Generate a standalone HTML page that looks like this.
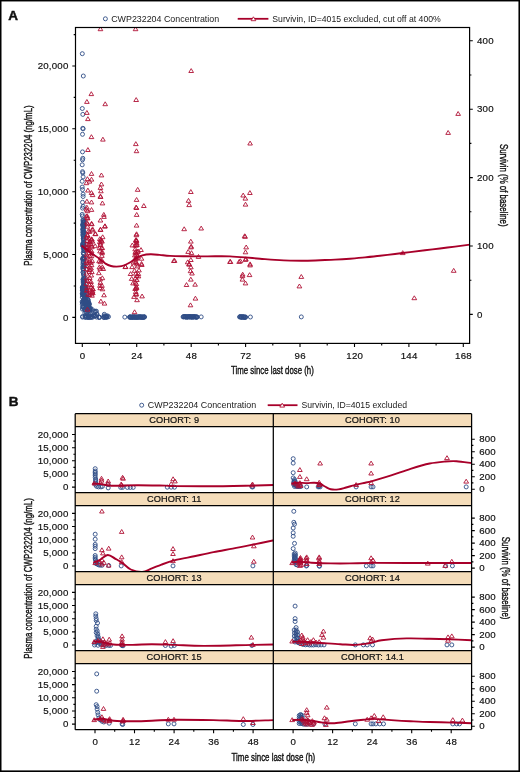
<!DOCTYPE html>
<html><head><meta charset="utf-8"><title>CWP232204 PK/PD</title>
<style>html,body{margin:0;padding:0;background:#fff;width:520px;height:772px;overflow:hidden}svg{display:block;will-change:transform}text{font-family:"Liberation Sans",sans-serif}</style>
</head><body>
<svg width="520" height="772" viewBox="0 0 520 772"><rect width="520" height="772" fill="#fff"/><rect x="0" y="0" width="520" height="1.45" fill="#000"/><rect x="0" y="0" width="1.5" height="772" fill="#000"/><rect x="518.45" y="0" width="1.55" height="772" fill="#000"/><rect x="0" y="770.4" width="520" height="1.6" fill="#000"/><g font-family="Liberation Sans, sans-serif" fill="#111"><text x="8.3" y="19.95" font-size="13.5" text-anchor="start" font-weight="bold" stroke="#111" stroke-width="0.45">A</text><text x="8.8" y="406.3" font-size="13.5" text-anchor="start" font-weight="bold" stroke="#111" stroke-width="0.45">B</text></g><circle cx="105.4" cy="18.8" r="2.0" fill="none" stroke="#2f4d86" stroke-width="0.9"/><g font-family="Liberation Sans, sans-serif" fill="#1a1a1a"><text x="111.2" y="21.9" font-size="9.2" text-anchor="start" font-weight="normal" textLength="108" lengthAdjust="spacingAndGlyphs">CWP232204 Concentration</text><text x="272.3" y="21.9" font-size="9.2" text-anchor="start" font-weight="normal" textLength="168.5" lengthAdjust="spacingAndGlyphs">Survivin, ID=4015 excluded, cut off at 400%</text></g><line x1="237.7" y1="18.8" x2="268.4" y2="18.8" stroke="#a8002a" stroke-width="1.8"/><g fill="#fff" stroke="#b01236" stroke-width="0.9"><path d="M253.4 16.8L255.8 20.7L251.1 20.7Z"/></g><clipPath id="cA"><rect x="75.5" y="27.5" width="394.1" height="315.9"/></clipPath><g clip-path="url(#cA)"><g fill="none" stroke="#2f4d86" stroke-width="0.9"><circle cx="82.3" cy="53.7" r="2.0"/><circle cx="83.3" cy="76.0" r="2.0"/><circle cx="82.3" cy="108.5" r="2.0"/><circle cx="82.8" cy="114.4" r="2.0"/><circle cx="82.8" cy="128.3" r="2.0"/><circle cx="83.1" cy="128.8" r="2.0"/><circle cx="82.5" cy="134.3" r="2.0"/><circle cx="82.5" cy="151.9" r="2.0"/><circle cx="82.8" cy="158.3" r="2.0"/><circle cx="82.5" cy="159.8" r="2.0"/><circle cx="82.2" cy="164.8" r="2.0"/><circle cx="82.5" cy="171.7" r="2.0"/><circle cx="82.8" cy="172.9" r="2.0"/><circle cx="83.1" cy="176.9" r="2.0"/><circle cx="82.2" cy="181.3" r="2.0"/><circle cx="82.2" cy="187.1" r="2.0"/><circle cx="82.5" cy="189.6" r="2.0"/><circle cx="83.1" cy="194.2" r="2.0"/><circle cx="83.1" cy="196.5" r="2.0"/><circle cx="82.5" cy="202.3" r="2.0"/><circle cx="83.1" cy="206.3" r="2.0"/><circle cx="82.5" cy="208.1" r="2.0"/><circle cx="82.2" cy="214.4" r="2.0"/><circle cx="82.4" cy="216.0" r="2.0"/><circle cx="124.8" cy="317.1" r="2.0"/><circle cx="130.0" cy="317.1" r="2.0"/><circle cx="132.5" cy="317.1" r="2.0"/><circle cx="134.5" cy="317.1" r="2.0"/><circle cx="136.5" cy="317.1" r="2.0"/><circle cx="138.5" cy="317.1" r="2.0"/><circle cx="140.5" cy="317.1" r="2.0"/><circle cx="142.5" cy="317.1" r="2.0"/><circle cx="144.4" cy="317.1" r="2.0"/><circle cx="183.1" cy="316.9" r="2.0"/><circle cx="185.5" cy="316.9" r="2.0"/><circle cx="187.5" cy="316.9" r="2.0"/><circle cx="189.5" cy="316.9" r="2.0"/><circle cx="191.5" cy="316.9" r="2.0"/><circle cx="193.5" cy="316.9" r="2.0"/><circle cx="196.9" cy="316.9" r="2.0"/><circle cx="201.2" cy="316.9" r="2.0"/><circle cx="239.6" cy="317.0" r="2.0"/><circle cx="241.5" cy="317.0" r="2.0"/><circle cx="243.5" cy="317.0" r="2.0"/><circle cx="245.5" cy="317.0" r="2.0"/><circle cx="250.4" cy="317.0" r="2.0"/><circle cx="301.3" cy="316.9" r="2.0"/><circle cx="82.9" cy="243.3" r="2.0"/><circle cx="82.8" cy="266.9" r="2.0"/><circle cx="83.3" cy="258.6" r="2.0"/><circle cx="83.5" cy="224.2" r="2.0"/><circle cx="83.4" cy="222.7" r="2.0"/><circle cx="82.8" cy="225.0" r="2.0"/><circle cx="84.0" cy="250.6" r="2.0"/><circle cx="83.1" cy="228.9" r="2.0"/><circle cx="84.2" cy="265.2" r="2.0"/><circle cx="83.3" cy="261.6" r="2.0"/><circle cx="82.8" cy="290.3" r="2.0"/><circle cx="83.2" cy="281.8" r="2.0"/><circle cx="82.9" cy="230.4" r="2.0"/><circle cx="84.0" cy="242.2" r="2.0"/><circle cx="83.6" cy="233.0" r="2.0"/><circle cx="83.3" cy="266.0" r="2.0"/><circle cx="82.8" cy="259.4" r="2.0"/><circle cx="83.0" cy="224.3" r="2.0"/><circle cx="83.4" cy="269.0" r="2.0"/><circle cx="83.6" cy="242.6" r="2.0"/><circle cx="83.2" cy="252.6" r="2.0"/><circle cx="83.8" cy="277.2" r="2.0"/><circle cx="83.6" cy="237.6" r="2.0"/><circle cx="84.1" cy="257.8" r="2.0"/><circle cx="83.2" cy="272.5" r="2.0"/><circle cx="82.9" cy="290.6" r="2.0"/><circle cx="83.9" cy="250.1" r="2.0"/><circle cx="83.5" cy="230.9" r="2.0"/><circle cx="83.8" cy="222.8" r="2.0"/><circle cx="83.6" cy="275.0" r="2.0"/><circle cx="83.2" cy="283.0" r="2.0"/><circle cx="83.7" cy="270.1" r="2.0"/><circle cx="83.4" cy="261.8" r="2.0"/><circle cx="84.2" cy="280.5" r="2.0"/><circle cx="83.8" cy="254.1" r="2.0"/><circle cx="83.8" cy="224.4" r="2.0"/><circle cx="84.3" cy="266.6" r="2.0"/><circle cx="83.2" cy="279.2" r="2.0"/><circle cx="83.8" cy="247.8" r="2.0"/><circle cx="83.4" cy="221.6" r="2.0"/><circle cx="82.9" cy="232.1" r="2.0"/><circle cx="83.9" cy="224.2" r="2.0"/><circle cx="83.1" cy="229.3" r="2.0"/><circle cx="84.1" cy="248.1" r="2.0"/><circle cx="83.4" cy="225.8" r="2.0"/><circle cx="84.1" cy="259.6" r="2.0"/><circle cx="84.1" cy="279.0" r="2.0"/><circle cx="83.4" cy="240.0" r="2.0"/><circle cx="84.1" cy="245.8" r="2.0"/><circle cx="82.9" cy="289.0" r="2.0"/><circle cx="83.1" cy="232.7" r="2.0"/><circle cx="83.5" cy="236.8" r="2.0"/><circle cx="83.1" cy="262.4" r="2.0"/><circle cx="83.4" cy="220.3" r="2.0"/><circle cx="83.6" cy="246.6" r="2.0"/><circle cx="83.8" cy="288.6" r="2.0"/><circle cx="83.7" cy="257.1" r="2.0"/><circle cx="82.8" cy="268.7" r="2.0"/><circle cx="83.9" cy="284.8" r="2.0"/><circle cx="84.0" cy="283.0" r="2.0"/><circle cx="83.3" cy="248.3" r="2.0"/><circle cx="83.7" cy="227.5" r="2.0"/><circle cx="82.8" cy="224.5" r="2.0"/><circle cx="83.0" cy="235.0" r="2.0"/><circle cx="82.8" cy="244.5" r="2.0"/><circle cx="82.9" cy="220.0" r="2.0"/><circle cx="83.3" cy="227.3" r="2.0"/><circle cx="84.1" cy="221.8" r="2.0"/><circle cx="82.9" cy="264.2" r="2.0"/><circle cx="83.3" cy="238.2" r="2.0"/><circle cx="82.9" cy="246.2" r="2.0"/><circle cx="84.3" cy="281.1" r="2.0"/><circle cx="83.5" cy="253.6" r="2.0"/><circle cx="82.9" cy="226.2" r="2.0"/><circle cx="83.1" cy="244.7" r="2.0"/><circle cx="83.0" cy="279.7" r="2.0"/><circle cx="84.2" cy="221.7" r="2.0"/><circle cx="82.9" cy="258.0" r="2.0"/><circle cx="82.7" cy="259.1" r="2.0"/><circle cx="84.3" cy="258.0" r="2.0"/><circle cx="83.8" cy="282.2" r="2.0"/><circle cx="83.3" cy="238.8" r="2.0"/><circle cx="83.9" cy="232.0" r="2.0"/><circle cx="83.9" cy="258.3" r="2.0"/><circle cx="83.1" cy="243.7" r="2.0"/><circle cx="84.3" cy="278.4" r="2.0"/><circle cx="84.0" cy="281.4" r="2.0"/><circle cx="83.9" cy="278.9" r="2.0"/><circle cx="83.5" cy="236.3" r="2.0"/><circle cx="82.7" cy="245.6" r="2.0"/><circle cx="83.1" cy="222.0" r="2.0"/><circle cx="83.8" cy="238.7" r="2.0"/><circle cx="83.4" cy="288.9" r="2.0"/><circle cx="84.3" cy="287.5" r="2.0"/><circle cx="83.3" cy="288.8" r="2.0"/><circle cx="83.1" cy="235.9" r="2.0"/><circle cx="83.0" cy="234.2" r="2.0"/><circle cx="84.1" cy="264.9" r="2.0"/><circle cx="83.5" cy="280.5" r="2.0"/><circle cx="84.0" cy="267.0" r="2.0"/><circle cx="83.8" cy="226.1" r="2.0"/><circle cx="84.0" cy="285.5" r="2.0"/><circle cx="83.5" cy="274.0" r="2.0"/><circle cx="84.0" cy="232.9" r="2.0"/><circle cx="84.0" cy="243.9" r="2.0"/><circle cx="83.3" cy="290.0" r="2.0"/><circle cx="84.2" cy="248.9" r="2.0"/><circle cx="83.0" cy="272.2" r="2.0"/><circle cx="82.9" cy="229.1" r="2.0"/><circle cx="84.0" cy="285.1" r="2.0"/><circle cx="85.6" cy="290.7" r="2.0"/><circle cx="99.5" cy="317.4" r="2.0"/><circle cx="85.3" cy="297.2" r="2.0"/><circle cx="82.3" cy="290.2" r="2.0"/><circle cx="99.3" cy="317.1" r="2.0"/><circle cx="88.8" cy="302.9" r="2.0"/><circle cx="87.8" cy="299.9" r="2.0"/><circle cx="86.0" cy="312.4" r="2.0"/><circle cx="83.6" cy="294.1" r="2.0"/><circle cx="85.0" cy="293.7" r="2.0"/><circle cx="84.3" cy="294.3" r="2.0"/><circle cx="85.8" cy="290.2" r="2.0"/><circle cx="84.8" cy="297.3" r="2.0"/><circle cx="89.0" cy="304.7" r="2.0"/><circle cx="87.9" cy="299.5" r="2.0"/><circle cx="85.9" cy="302.1" r="2.0"/><circle cx="82.3" cy="302.8" r="2.0"/><circle cx="83.4" cy="300.1" r="2.0"/><circle cx="84.5" cy="286.1" r="2.0"/><circle cx="84.2" cy="291.5" r="2.0"/><circle cx="87.3" cy="309.2" r="2.0"/><circle cx="85.1" cy="296.4" r="2.0"/><circle cx="88.0" cy="303.8" r="2.0"/><circle cx="84.3" cy="289.4" r="2.0"/><circle cx="83.6" cy="294.0" r="2.0"/><circle cx="88.9" cy="310.7" r="2.0"/><circle cx="87.8" cy="304.0" r="2.0"/><circle cx="93.5" cy="315.2" r="2.0"/><circle cx="86.1" cy="305.6" r="2.0"/><circle cx="87.0" cy="302.4" r="2.0"/><circle cx="85.7" cy="300.5" r="2.0"/><circle cx="88.5" cy="301.3" r="2.0"/><circle cx="89.6" cy="308.4" r="2.0"/><circle cx="89.0" cy="316.1" r="2.0"/><circle cx="89.2" cy="303.9" r="2.0"/><circle cx="84.8" cy="312.9" r="2.0"/><circle cx="83.9" cy="289.9" r="2.0"/><circle cx="83.0" cy="288.3" r="2.0"/><circle cx="84.5" cy="288.3" r="2.0"/><circle cx="95.0" cy="311.1" r="2.0"/><circle cx="85.2" cy="290.9" r="2.0"/><circle cx="83.4" cy="307.1" r="2.0"/><circle cx="104.3" cy="314.3" r="2.0"/><circle cx="86.6" cy="293.0" r="2.0"/><circle cx="85.2" cy="298.7" r="2.0"/><circle cx="104.1" cy="317.4" r="2.0"/><circle cx="84.0" cy="291.2" r="2.0"/><circle cx="84.6" cy="302.5" r="2.0"/><circle cx="83.6" cy="292.3" r="2.0"/><circle cx="82.4" cy="309.1" r="2.0"/><circle cx="85.4" cy="303.7" r="2.0"/><circle cx="83.2" cy="286.6" r="2.0"/><circle cx="86.2" cy="306.0" r="2.0"/><circle cx="85.6" cy="288.1" r="2.0"/><circle cx="96.4" cy="311.2" r="2.0"/><circle cx="83.2" cy="289.4" r="2.0"/><circle cx="84.7" cy="287.3" r="2.0"/><circle cx="82.9" cy="294.7" r="2.0"/><circle cx="87.9" cy="299.5" r="2.0"/><circle cx="86.7" cy="312.2" r="2.0"/><circle cx="86.0" cy="290.8" r="2.0"/><circle cx="87.4" cy="304.3" r="2.0"/><circle cx="82.4" cy="288.9" r="2.0"/><circle cx="85.8" cy="308.0" r="2.0"/><circle cx="85.5" cy="288.3" r="2.0"/><circle cx="88.6" cy="306.3" r="2.0"/><circle cx="85.3" cy="288.7" r="2.0"/><circle cx="85.2" cy="288.1" r="2.0"/><circle cx="84.4" cy="300.5" r="2.0"/><circle cx="89.0" cy="303.7" r="2.0"/><circle cx="82.9" cy="294.6" r="2.0"/><circle cx="83.9" cy="302.9" r="2.0"/><circle cx="82.8" cy="289.5" r="2.0"/><circle cx="82.9" cy="287.6" r="2.0"/><circle cx="83.8" cy="296.0" r="2.0"/><circle cx="85.7" cy="310.3" r="2.0"/><circle cx="83.4" cy="302.0" r="2.0"/><circle cx="82.3" cy="297.1" r="2.0"/><circle cx="82.3" cy="294.0" r="2.0"/><circle cx="87.6" cy="309.5" r="2.0"/><circle cx="84.3" cy="292.1" r="2.0"/><circle cx="85.0" cy="315.9" r="2.0"/><circle cx="89.7" cy="312.2" r="2.0"/><circle cx="87.9" cy="301.8" r="2.0"/><circle cx="85.3" cy="298.6" r="2.0"/><circle cx="90.5" cy="308.0" r="2.0"/><circle cx="86.9" cy="297.0" r="2.0"/><circle cx="87.6" cy="308.6" r="2.0"/><circle cx="84.3" cy="299.0" r="2.0"/><circle cx="82.6" cy="287.7" r="2.0"/><circle cx="84.8" cy="288.3" r="2.0"/><circle cx="83.0" cy="294.2" r="2.0"/><circle cx="85.2" cy="288.7" r="2.0"/><circle cx="96.8" cy="313.9" r="2.0"/><circle cx="83.4" cy="295.0" r="2.0"/><circle cx="84.6" cy="295.4" r="2.0"/><circle cx="84.1" cy="291.0" r="2.0"/><circle cx="87.0" cy="294.4" r="2.0"/><circle cx="96.6" cy="317.1" r="2.0"/><circle cx="86.9" cy="293.8" r="2.0"/><circle cx="84.1" cy="295.9" r="2.0"/><circle cx="83.3" cy="286.0" r="2.0"/><circle cx="85.6" cy="301.2" r="2.0"/><circle cx="84.5" cy="292.4" r="2.0"/><circle cx="83.0" cy="286.2" r="2.0"/><circle cx="83.6" cy="288.9" r="2.0"/><circle cx="82.3" cy="287.3" r="2.0"/><circle cx="83.4" cy="295.7" r="2.0"/><circle cx="86.2" cy="304.7" r="2.0"/><circle cx="89.7" cy="310.0" r="2.0"/><circle cx="89.8" cy="308.9" r="2.0"/><circle cx="84.2" cy="298.5" r="2.0"/><circle cx="86.1" cy="317.4" r="2.0"/><circle cx="88.1" cy="309.2" r="2.0"/><circle cx="84.9" cy="287.4" r="2.0"/><circle cx="97.0" cy="314.5" r="2.0"/><circle cx="90.3" cy="309.5" r="2.0"/><circle cx="84.3" cy="290.5" r="2.0"/><circle cx="88.0" cy="302.1" r="2.0"/><circle cx="95.5" cy="311.7" r="2.0"/><circle cx="89.0" cy="304.7" r="2.0"/><circle cx="88.0" cy="307.9" r="2.0"/><circle cx="82.3" cy="293.4" r="2.0"/><circle cx="83.6" cy="290.3" r="2.0"/><circle cx="85.3" cy="289.4" r="2.0"/><circle cx="86.8" cy="303.9" r="2.0"/><circle cx="87.6" cy="306.0" r="2.0"/><circle cx="82.2" cy="301.7" r="2.0"/><circle cx="93.8" cy="311.5" r="2.0"/><circle cx="85.9" cy="302.1" r="2.0"/><circle cx="82.7" cy="307.1" r="2.0"/><circle cx="84.8" cy="309.6" r="2.0"/><circle cx="83.1" cy="288.4" r="2.0"/><circle cx="84.2" cy="309.3" r="2.0"/><circle cx="92.4" cy="309.7" r="2.0"/><circle cx="84.8" cy="301.8" r="2.0"/><circle cx="86.8" cy="301.3" r="2.0"/><circle cx="90.1" cy="310.5" r="2.0"/><circle cx="82.8" cy="306.6" r="2.0"/><circle cx="83.2" cy="290.7" r="2.0"/><circle cx="85.5" cy="309.8" r="2.0"/><circle cx="82.3" cy="304.2" r="2.0"/><circle cx="83.1" cy="287.9" r="2.0"/><circle cx="87.9" cy="307.5" r="2.0"/><circle cx="84.6" cy="307.6" r="2.0"/><circle cx="85.5" cy="302.5" r="2.0"/><circle cx="83.0" cy="300.9" r="2.0"/><circle cx="86.9" cy="314.6" r="2.0"/><circle cx="106.8" cy="317.3" r="2.0"/><circle cx="83.6" cy="286.6" r="2.0"/><circle cx="103.8" cy="317.5" r="2.0"/><circle cx="94.2" cy="316.1" r="2.0"/><circle cx="88.0" cy="317.5" r="2.0"/><circle cx="88.0" cy="316.7" r="2.0"/><circle cx="86.2" cy="316.6" r="2.0"/><circle cx="107.3" cy="315.8" r="2.0"/><circle cx="103.8" cy="316.6" r="2.0"/><circle cx="105.6" cy="317.0" r="2.0"/><circle cx="88.5" cy="317.4" r="2.0"/><circle cx="95.1" cy="315.6" r="2.0"/><circle cx="82.6" cy="316.5" r="2.0"/><circle cx="94.2" cy="316.1" r="2.0"/><circle cx="86.2" cy="316.2" r="2.0"/><circle cx="90.7" cy="317.3" r="2.0"/><circle cx="82.5" cy="317.1" r="2.0"/><circle cx="104.3" cy="315.8" r="2.0"/><circle cx="106.6" cy="317.0" r="2.0"/><circle cx="105.9" cy="316.1" r="2.0"/><circle cx="92.2" cy="316.3" r="2.0"/><circle cx="108.5" cy="316.7" r="2.0"/><circle cx="91.9" cy="316.4" r="2.0"/><circle cx="89.7" cy="315.6" r="2.0"/><circle cx="85.1" cy="317.3" r="2.0"/><circle cx="89.9" cy="317.5" r="2.0"/><circle cx="89.0" cy="316.1" r="2.0"/><circle cx="95.8" cy="315.9" r="2.0"/><circle cx="92.2" cy="317.5" r="2.0"/><circle cx="105.5" cy="317.2" r="2.0"/><circle cx="98.9" cy="317.4" r="2.0"/><circle cx="107.0" cy="316.7" r="2.0"/><circle cx="129.5" cy="317.2" r="2.0"/><circle cx="130.0" cy="316.8" r="2.0"/><circle cx="130.5" cy="317.2" r="2.0"/><circle cx="131.0" cy="317.1" r="2.0"/><circle cx="131.5" cy="317.3" r="2.0"/><circle cx="132.0" cy="317.2" r="2.0"/><circle cx="132.5" cy="317.0" r="2.0"/><circle cx="133.0" cy="316.8" r="2.0"/><circle cx="133.5" cy="317.4" r="2.0"/><circle cx="134.0" cy="316.9" r="2.0"/><circle cx="134.5" cy="317.1" r="2.0"/><circle cx="135.0" cy="317.0" r="2.0"/><circle cx="135.5" cy="317.0" r="2.0"/><circle cx="136.0" cy="317.2" r="2.0"/><circle cx="136.5" cy="317.4" r="2.0"/><circle cx="137.0" cy="317.0" r="2.0"/><circle cx="137.5" cy="317.2" r="2.0"/><circle cx="138.0" cy="317.0" r="2.0"/><circle cx="138.5" cy="317.1" r="2.0"/><circle cx="139.0" cy="317.0" r="2.0"/><circle cx="139.5" cy="316.9" r="2.0"/><circle cx="140.0" cy="316.9" r="2.0"/><circle cx="140.5" cy="316.9" r="2.0"/><circle cx="141.0" cy="317.3" r="2.0"/><circle cx="141.5" cy="317.1" r="2.0"/><circle cx="142.0" cy="316.9" r="2.0"/><circle cx="142.5" cy="317.3" r="2.0"/><circle cx="143.0" cy="317.4" r="2.0"/><circle cx="143.5" cy="317.1" r="2.0"/><circle cx="144.0" cy="316.9" r="2.0"/><circle cx="144.5" cy="316.9" r="2.0"/><circle cx="183.5" cy="316.7" r="2.0"/><circle cx="184.0" cy="316.8" r="2.0"/><circle cx="184.5" cy="316.7" r="2.0"/><circle cx="185.0" cy="316.7" r="2.0"/><circle cx="185.5" cy="316.8" r="2.0"/><circle cx="186.0" cy="316.9" r="2.0"/><circle cx="186.5" cy="317.1" r="2.0"/><circle cx="187.0" cy="317.0" r="2.0"/><circle cx="187.5" cy="316.8" r="2.0"/><circle cx="188.0" cy="316.8" r="2.0"/><circle cx="188.5" cy="316.9" r="2.0"/><circle cx="189.0" cy="316.8" r="2.0"/><circle cx="189.5" cy="316.8" r="2.0"/><circle cx="190.0" cy="316.6" r="2.0"/><circle cx="190.5" cy="316.8" r="2.0"/><circle cx="191.0" cy="317.2" r="2.0"/><circle cx="191.5" cy="316.7" r="2.0"/><circle cx="192.0" cy="316.9" r="2.0"/><circle cx="192.5" cy="317.0" r="2.0"/><circle cx="193.0" cy="317.1" r="2.0"/><circle cx="193.5" cy="316.7" r="2.0"/><circle cx="194.0" cy="316.8" r="2.0"/><circle cx="194.5" cy="316.7" r="2.0"/><circle cx="195.0" cy="316.8" r="2.0"/><circle cx="195.5" cy="316.9" r="2.0"/><circle cx="196.0" cy="317.2" r="2.0"/><circle cx="196.5" cy="317.1" r="2.0"/><circle cx="197.0" cy="317.1" r="2.0"/><circle cx="240.0" cy="316.7" r="2.0"/><circle cx="240.5" cy="316.7" r="2.0"/><circle cx="241.0" cy="317.1" r="2.0"/><circle cx="241.5" cy="317.2" r="2.0"/><circle cx="242.0" cy="317.0" r="2.0"/><circle cx="242.5" cy="317.1" r="2.0"/><circle cx="243.0" cy="316.7" r="2.0"/><circle cx="243.5" cy="316.9" r="2.0"/><circle cx="244.0" cy="317.3" r="2.0"/><circle cx="244.5" cy="317.2" r="2.0"/><circle cx="245.0" cy="317.2" r="2.0"/><circle cx="245.5" cy="317.3" r="2.0"/></g><g fill="none" stroke="#b01236" stroke-width="0.9"><path d="M100.4 26.8L102.8 30.7L98.1 30.7Z"/><path d="M135.6 26.8L137.9 30.7L133.2 30.7Z"/><path d="M191.2 68.6L193.5 72.5L188.8 72.5Z"/><path d="M458.1 111.5L460.5 115.4L455.8 115.4Z"/><path d="M448.1 130.5L450.5 134.4L445.8 134.4Z"/><path d="M91.3 91.7L93.6 95.6L89.0 95.6Z"/><path d="M86.9 99.5L89.2 103.4L84.6 103.4Z"/><path d="M105.2 101.8L107.5 105.7L102.9 105.7Z"/><path d="M136.2 97.6L138.5 101.5L133.8 101.5Z"/><path d="M86.9 110.5L89.2 114.4L84.6 114.4Z"/><path d="M87.9 116.7L90.2 120.6L85.6 120.6Z"/><path d="M91.4 134.7L93.8 138.6L89.1 138.6Z"/><path d="M102.9 137.2L105.2 141.1L100.6 141.1Z"/><path d="M87.9 147.6L90.2 151.5L85.6 151.5Z"/><path d="M135.8 141.7L138.2 145.6L133.5 145.6Z"/><path d="M136.5 148.8L138.8 152.7L134.2 152.7Z"/><path d="M91.5 171.5L93.8 175.4L89.2 175.4Z"/><path d="M101.4 173.0L103.8 176.9L99.1 176.9Z"/><path d="M87.4 176.7L89.8 180.6L85.1 180.6Z"/><path d="M91.5 177.2L93.8 181.1L89.2 181.1Z"/><path d="M89.5 179.2L91.8 183.1L87.2 183.1Z"/><path d="M86.4 180.8L88.8 184.7L84.1 184.7Z"/><path d="M101.4 182.0L103.8 185.9L99.1 185.9Z"/><path d="M100.4 185.5L102.8 189.4L98.1 189.4Z"/><path d="M100.9 188.9L103.2 192.8L98.6 192.8Z"/><path d="M87.9 188.1L90.2 192.0L85.6 192.0Z"/><path d="M91.5 190.6L93.8 194.5L89.2 194.5Z"/><path d="M92.6 192.7L94.9 196.6L90.2 196.6Z"/><path d="M100.4 194.1L102.8 198.0L98.1 198.0Z"/><path d="M100.6 194.6L102.9 198.5L98.2 198.5Z"/><path d="M86.9 199.2L89.2 203.1L84.6 203.1Z"/><path d="M91.5 200.0L93.8 203.9L89.2 203.9Z"/><path d="M102.4 201.0L104.8 204.9L100.1 204.9Z"/><path d="M86.9 205.2L89.2 209.1L84.6 209.1Z"/><path d="M86.4 207.2L88.8 211.1L84.1 211.1Z"/><path d="M91.5 207.5L93.8 211.4L89.2 211.4Z"/><path d="M87.4 208.8L89.8 212.7L85.1 212.7Z"/><path d="M86.4 214.0L88.8 217.9L84.1 217.9Z"/><path d="M87.4 216.0L89.8 219.9L85.1 219.9Z"/><path d="M104.0 214.5L106.3 218.4L101.7 218.4Z"/><path d="M100.4 218.1L102.8 222.0L98.1 222.0Z"/><path d="M86.9 220.2L89.2 224.1L84.6 224.1Z"/><path d="M91.5 221.4L93.8 225.3L89.2 225.3Z"/><path d="M105.0 223.8L107.3 227.7L102.7 227.7Z"/><path d="M87.4 224.3L89.8 228.2L85.1 228.2Z"/><path d="M92.6 226.9L94.9 230.8L90.2 230.8Z"/><path d="M100.4 227.2L102.8 231.1L98.1 231.1Z"/><path d="M89.5 229.5L91.8 233.4L87.2 233.4Z"/><path d="M95.2 231.6L97.5 235.5L92.9 235.5Z"/><path d="M87.4 232.6L89.8 236.5L85.1 236.5Z"/><path d="M91.5 236.8L93.8 240.7L89.2 240.7Z"/><path d="M100.9 237.3L103.2 241.2L98.6 241.2Z"/><path d="M103.8 212.4L106.1 216.3L101.5 216.3Z"/><path d="M87.2 213.8L89.5 217.7L84.9 217.7Z"/><path d="M87.5 215.7L89.8 219.6L85.2 219.6Z"/><path d="M87.5 221.8L89.8 225.7L85.2 225.7Z"/><path d="M91.8 221.8L94.1 225.7L89.5 225.7Z"/><path d="M104.8 224.2L107.1 228.1L102.5 228.1Z"/><path d="M100.6 227.6L102.9 231.5L98.2 231.5Z"/><path d="M92.2 228.0L94.5 231.9L89.9 231.9Z"/><path d="M88.3 228.8L90.6 232.7L86.0 232.7Z"/><path d="M95.6 231.8L97.9 235.7L93.2 235.7Z"/><path d="M87.5 233.4L89.8 237.3L85.2 237.3Z"/><path d="M89.8 239.2L92.1 243.1L87.5 243.1Z"/><path d="M92.5 239.2L94.8 243.1L90.2 243.1Z"/><path d="M101.4 238.4L103.8 242.3L99.1 242.3Z"/><path d="M100.6 241.1L102.9 245.0L98.2 245.0Z"/><path d="M91.4 243.4L93.8 247.3L89.1 247.3Z"/><path d="M95.2 243.8L97.5 247.7L92.9 247.7Z"/><path d="M86.8 245.7L89.1 249.6L84.5 249.6Z"/><path d="M101.4 245.7L103.8 249.6L99.1 249.6Z"/><path d="M137.7 187.4L140.0 191.3L135.3 191.3Z"/><path d="M136.6 197.5L138.9 201.4L134.2 201.4Z"/><path d="M143.8 203.6L146.2 207.5L141.5 207.5Z"/><path d="M136.1 205.1L138.4 209.0L133.8 209.0Z"/><path d="M136.4 205.6L138.8 209.5L134.1 209.5Z"/><path d="M136.7 212.5L139.0 216.4L134.3 216.4Z"/><path d="M136.6 223.2L138.9 227.1L134.2 227.1Z"/><path d="M136.6 231.8L138.9 235.7L134.2 235.7Z"/><path d="M136.3 232.8L138.7 236.7L134.0 236.7Z"/><path d="M136.3 237.8L138.7 241.7L134.0 241.7Z"/><path d="M136.0 238.5L138.3 242.4L133.7 242.4Z"/><path d="M136.6 239.0L138.9 242.9L134.2 242.9Z"/><path d="M132.3 243.0L134.7 246.9L130.0 246.9Z"/><path d="M136.3 243.0L138.7 246.9L134.0 246.9Z"/><path d="M141.0 247.6L143.3 251.5L138.7 251.5Z"/><path d="M135.2 247.0L137.5 250.9L132.8 250.9Z"/><path d="M136.3 251.0L138.7 254.9L134.0 254.9Z"/><path d="M141.5 256.3L143.8 260.2L139.2 260.2Z"/><path d="M136.3 255.7L138.7 259.6L134.0 259.6Z"/><path d="M133.5 260.3L135.8 264.2L131.2 264.2Z"/><path d="M141.5 261.5L143.8 265.4L139.2 265.4Z"/><path d="M136.3 260.3L138.7 264.2L134.0 264.2Z"/><path d="M125.4 264.7L127.8 268.6L123.1 268.6Z"/><path d="M134.6 268.4L136.9 272.3L132.2 272.3Z"/><path d="M130.6 271.6L132.9 275.5L128.2 275.5Z"/><path d="M135.8 271.3L138.2 275.2L133.5 275.2Z"/><path d="M131.7 276.5L134.0 280.4L129.3 280.4Z"/><path d="M136.9 277.6L139.2 281.5L134.6 281.5Z"/><path d="M136.3 281.7L138.7 285.6L134.0 285.6Z"/><path d="M135.8 286.3L138.2 290.2L133.5 290.2Z"/><path d="M173.8 258.6L176.2 262.5L171.5 262.5Z"/><path d="M136.3 284.7L138.7 288.6L134.0 288.6Z"/><path d="M135.2 286.5L137.5 290.4L132.8 290.4Z"/><path d="M136.3 291.7L138.7 295.6L134.0 295.6Z"/><path d="M136.0 292.3L138.3 296.2L133.7 296.2Z"/><path d="M134.0 294.5L136.3 298.4L131.7 298.4Z"/><path d="M142.1 294.0L144.4 297.9L139.8 297.9Z"/><path d="M134.6 309.8L136.9 313.7L132.2 313.7Z"/><path d="M137.5 264.0L139.8 267.9L135.2 267.9Z"/><path d="M138.0 249.0L140.3 252.9L135.7 252.9Z"/><path d="M134.8 253.0L137.2 256.9L132.5 256.9Z"/><path d="M139.0 268.0L141.3 271.9L136.7 271.9Z"/><path d="M133.0 281.0L135.3 284.9L130.7 284.9Z"/><path d="M138.5 274.0L140.8 277.9L136.2 277.9Z"/><path d="M125.4 264.5L127.8 268.4L123.1 268.4Z"/><path d="M190.8 189.6L193.2 193.5L188.5 193.5Z"/><path d="M188.5 198.4L190.8 202.3L186.2 202.3Z"/><path d="M189.2 202.7L191.5 206.6L186.8 206.6Z"/><path d="M184.2 226.8L186.5 230.7L181.8 230.7Z"/><path d="M201.2 226.1L203.5 230.0L198.8 230.0Z"/><path d="M190.8 239.2L193.2 243.1L188.5 243.1Z"/><path d="M191.2 244.2L193.5 248.1L188.8 248.1Z"/><path d="M191.0 245.0L193.3 248.9L188.7 248.9Z"/><path d="M188.2 249.5L190.5 253.4L185.8 253.4Z"/><path d="M191.5 250.7L193.8 254.6L189.2 254.6Z"/><path d="M198.5 254.5L200.8 258.4L196.2 258.4Z"/><path d="M174.6 258.4L176.9 262.3L172.2 262.3Z"/><path d="M190.8 257.6L193.2 261.5L188.5 261.5Z"/><path d="M187.7 259.9L190.0 263.8L185.3 263.8Z"/><path d="M189.2 262.2L191.5 266.1L186.8 266.1Z"/><path d="M230.0 259.5L232.3 263.4L227.7 263.4Z"/><path d="M239.2 259.5L241.5 263.4L236.8 263.4Z"/><path d="M189.2 261.8L191.5 265.7L186.8 265.7Z"/><path d="M190.8 264.9L193.2 268.8L188.5 268.8Z"/><path d="M190.5 268.8L192.8 272.7L188.2 272.7Z"/><path d="M192.0 271.1L194.3 275.0L189.7 275.0Z"/><path d="M190.8 277.2L193.2 281.1L188.5 281.1Z"/><path d="M186.5 282.6L188.8 286.5L184.2 286.5Z"/><path d="M195.1 282.3L197.4 286.2L192.8 286.2Z"/><path d="M195.4 296.2L197.8 300.1L193.1 300.1Z"/><path d="M190.5 302.9L192.8 306.8L188.2 306.8Z"/><path d="M250.1 141.1L252.4 145.0L247.8 145.0Z"/><path d="M249.9 190.6L252.2 194.5L247.6 194.5Z"/><path d="M243.2 193.1L245.5 197.0L240.8 197.0Z"/><path d="M245.3 196.2L247.7 200.1L243.0 200.1Z"/><path d="M245.5 202.2L247.8 206.1L243.2 206.1Z"/><path d="M244.7 233.8L247.0 237.7L242.3 237.7Z"/><path d="M245.1 234.4L247.4 238.3L242.8 238.3Z"/><path d="M246.2 245.0L248.5 248.9L243.8 248.9Z"/><path d="M245.5 249.9L247.8 253.8L243.2 253.8Z"/><path d="M245.8 256.8L248.2 260.7L243.5 260.7Z"/><path d="M245.5 257.5L247.8 261.4L243.2 261.4Z"/><path d="M240.4 258.8L242.8 262.7L238.1 262.7Z"/><path d="M230.4 259.5L232.8 263.4L228.1 263.4Z"/><path d="M250.1 261.9L252.4 265.8L247.8 265.8Z"/><path d="M242.7 272.2L245.0 276.1L240.3 276.1Z"/><path d="M249.6 272.7L251.9 276.6L247.2 276.6Z"/><path d="M242.4 273.8L244.8 277.7L240.1 277.7Z"/><path d="M242.4 277.2L244.8 281.1L240.1 281.1Z"/><path d="M245.5 281.0L247.8 284.9L243.2 284.9Z"/><path d="M250.1 263.0L252.4 266.9L247.8 266.9Z"/><path d="M301.3 274.5L303.7 278.4L298.9 278.4Z"/><path d="M299.4 284.0L301.8 287.9L297.0 287.9Z"/><path d="M402.7 250.7L405.1 254.6L400.3 254.6Z"/><path d="M453.7 268.4L456.1 272.3L451.3 272.3Z"/><path d="M414.3 295.8L416.7 299.7L411.9 299.7Z"/><path d="M87.5 307.2L89.8 311.1L85.2 311.1Z"/><path d="M104.0 292.9L106.3 296.8L101.7 296.8Z"/><path d="M100.9 299.1L103.2 303.0L98.6 303.0Z"/><path d="M104.5 301.2L106.8 305.1L102.2 305.1Z"/><path d="M86.5 235.1L88.8 239.0L84.1 239.0Z"/><path d="M88.8 236.1L91.1 240.0L86.4 240.0Z"/><path d="M91.8 237.1L94.2 241.0L89.5 241.0Z"/><path d="M99.8 236.7L102.2 240.6L97.5 240.6Z"/><path d="M102.7 234.8L105.0 238.7L100.3 238.7Z"/><path d="M87.1 238.5L89.5 242.4L84.8 242.4Z"/><path d="M89.7 239.4L92.1 243.3L87.4 243.3Z"/><path d="M91.4 238.2L93.7 242.1L89.0 242.1Z"/><path d="M99.8 239.6L102.2 243.5L97.5 243.5Z"/><path d="M101.9 239.2L104.3 243.1L99.6 243.1Z"/><path d="M86.9 241.9L89.2 245.8L84.5 245.8Z"/><path d="M88.9 242.4L91.2 246.3L86.5 246.3Z"/><path d="M91.0 241.7L93.4 245.6L88.7 245.6Z"/><path d="M100.3 242.6L102.7 246.5L98.0 246.5Z"/><path d="M86.8 244.7L89.1 248.6L84.4 248.6Z"/><path d="M88.9 246.4L91.2 250.3L86.5 250.3Z"/><path d="M91.8 244.8L94.2 248.7L89.5 248.7Z"/><path d="M99.6 245.8L101.9 249.7L97.2 249.7Z"/><path d="M102.2 245.7L104.6 249.6L99.9 249.6Z"/><path d="M87.3 247.7L89.7 251.6L85.0 251.6Z"/><path d="M88.6 248.0L91.0 251.9L86.3 251.9Z"/><path d="M91.5 248.8L93.9 252.7L89.2 252.7Z"/><path d="M100.1 249.0L102.4 252.9L97.7 252.9Z"/><path d="M102.1 249.6L104.5 253.5L99.8 253.5Z"/><path d="M86.6 252.3L88.9 256.2L84.2 256.2Z"/><path d="M88.9 250.8L91.2 254.7L86.5 254.7Z"/><path d="M91.9 251.0L94.3 254.9L89.6 254.9Z"/><path d="M102.1 250.8L104.4 254.7L99.7 254.7Z"/><path d="M86.7 255.0L89.1 258.9L84.4 258.9Z"/><path d="M89.7 253.8L92.1 257.7L87.4 257.7Z"/><path d="M91.5 253.9L93.8 257.8L89.1 257.8Z"/><path d="M101.9 253.5L104.2 257.4L99.5 257.4Z"/><path d="M86.7 258.7L89.0 262.6L84.3 262.6Z"/><path d="M89.7 258.3L92.0 262.2L87.3 262.2Z"/><path d="M92.2 258.7L94.5 262.6L89.8 262.6Z"/><path d="M99.1 258.8L101.4 262.7L96.7 262.7Z"/><path d="M101.9 258.1L104.2 262.0L99.5 262.0Z"/><path d="M86.7 260.5L89.0 264.4L84.3 264.4Z"/><path d="M89.0 260.0L91.3 263.9L86.6 263.9Z"/><path d="M91.0 260.3L93.4 264.2L88.7 264.2Z"/><path d="M100.3 259.8L102.7 263.7L98.0 263.7Z"/><path d="M86.4 263.6L88.8 267.5L84.1 267.5Z"/><path d="M89.6 264.7L91.9 268.6L87.2 268.6Z"/><path d="M91.5 262.8L93.9 266.7L89.2 266.7Z"/><path d="M99.4 265.0L101.7 268.9L97.0 268.9Z"/><path d="M102.4 264.9L104.7 268.8L100.0 268.8Z"/><path d="M86.2 266.8L88.6 270.7L83.9 270.7Z"/><path d="M89.6 267.6L91.9 271.5L87.2 271.5Z"/><path d="M91.0 265.9L93.4 269.8L88.7 269.8Z"/><path d="M100.3 266.4L102.6 270.3L97.9 270.3Z"/><path d="M103.2 266.6L105.6 270.5L100.9 270.5Z"/><path d="M86.5 271.2L88.9 275.1L84.2 275.1Z"/><path d="M89.3 269.5L91.7 273.4L87.0 273.4Z"/><path d="M91.9 269.7L94.2 273.6L89.5 273.6Z"/><path d="M98.8 270.8L101.2 274.7L96.5 274.7Z"/><path d="M91.3 273.1L93.6 277.0L88.9 277.0Z"/><path d="M86.5 276.1L88.9 280.0L84.2 280.0Z"/><path d="M89.7 275.5L92.1 279.4L87.4 279.4Z"/><path d="M100.1 277.0L102.5 280.9L97.8 280.9Z"/><path d="M102.3 275.8L104.7 279.7L100.0 279.7Z"/><path d="M87.1 278.4L89.5 282.3L84.8 282.3Z"/><path d="M89.5 278.8L91.9 282.7L87.2 282.7Z"/><path d="M91.0 279.5L93.4 283.4L88.7 283.4Z"/><path d="M100.4 280.4L102.7 284.3L98.0 284.3Z"/><path d="M86.3 281.5L88.7 285.4L84.0 285.4Z"/><path d="M89.5 282.4L91.8 286.3L87.1 286.3Z"/><path d="M91.5 282.8L93.9 286.7L89.2 286.7Z"/><path d="M100.0 283.4L102.3 287.3L97.6 287.3Z"/><path d="M102.0 283.4L104.3 287.3L99.6 287.3Z"/><path d="M86.9 285.3L89.2 289.2L84.5 289.2Z"/><path d="M91.3 285.0L93.6 288.9L88.9 288.9Z"/><path d="M100.2 285.8L102.6 289.7L97.9 289.7Z"/><path d="M102.4 286.9L104.8 290.8L100.1 290.8Z"/><path d="M89.8 287.9L92.1 291.8L87.4 291.8Z"/><path d="M91.8 291.2L94.1 295.1L89.4 295.1Z"/><path d="M92.9 286.8L95.3 290.7L90.6 290.7Z"/><path d="M89.6 292.6L91.9 296.5L87.2 296.5Z"/><path d="M92.0 293.3L94.3 297.2L89.6 297.2Z"/><path d="M86.8 288.3L89.1 292.2L84.4 292.2Z"/><path d="M87.3 287.5L89.6 291.4L84.9 291.4Z"/><path d="M92.8 290.7L95.2 294.6L90.5 294.6Z"/><path d="M92.5 289.0L94.9 292.9L90.2 292.9Z"/><path d="M92.1 289.6L94.5 293.5L89.8 293.5Z"/><path d="M88.2 292.2L90.5 296.1L85.8 296.1Z"/><path d="M92.6 286.8L95.0 290.7L90.3 290.7Z"/><path d="M135.3 250.3L137.6 254.2L132.9 254.2Z"/><path d="M135.6 259.5L137.9 263.4L133.2 263.4Z"/><path d="M136.7 252.5L139.0 256.4L134.3 256.4Z"/><path d="M136.8 273.6L139.1 277.5L134.4 277.5Z"/><path d="M135.9 237.7L138.3 241.6L133.6 241.6Z"/><path d="M135.8 257.0L138.2 260.9L133.5 260.9Z"/><path d="M136.0 256.0L138.4 259.9L133.7 259.9Z"/><path d="M135.8 249.4L138.1 253.3L133.4 253.3Z"/><path d="M136.6 240.9L139.0 244.8L134.3 244.8Z"/><path d="M135.2 243.2L137.6 247.1L132.9 247.1Z"/><path d="M135.4 276.0L137.7 279.9L133.0 279.9Z"/><path d="M137.0 242.6L139.3 246.5L134.6 246.5Z"/><path d="M137.0 262.0L139.4 265.9L134.7 265.9Z"/><path d="M137.5 254.3L139.8 258.2L135.1 258.2Z"/><path d="M135.5 256.1L137.9 260.0L133.2 260.0Z"/><path d="M138.4 271.6L140.7 275.5L136.0 275.5Z"/><path d="M135.7 289.7L138.1 293.6L133.4 293.6Z"/><path d="M137.0 297.8L139.4 301.7L134.7 301.7Z"/><path d="M135.3 280.2L137.7 284.1L133.0 284.1Z"/><path d="M137.7 249.8L140.0 253.7L135.3 253.7Z"/><path d="M141.8 262.6L144.1 266.5L139.4 266.5Z"/><path d="M136.6 285.6L138.9 289.5L134.2 289.5Z"/><path d="M132.1 264.7L134.4 268.6L129.7 268.6Z"/></g><path d="M81.5 245.5C82.3 246.2 84.8 248.2 86.5 249.5C88.2 250.8 89.3 252.0 91.5 253.5C93.7 255.0 97.2 257.0 99.5 258.7C101.8 260.4 103.6 262.4 105.5 263.6C107.4 264.8 109.2 265.5 111.0 266.0C112.8 266.5 114.8 266.6 116.5 266.6C118.2 266.6 119.9 266.6 121.5 266.2C123.1 265.8 124.5 265.2 126.0 264.5C127.5 263.8 129.1 263.1 130.8 262.0C132.6 260.9 134.6 259.0 136.5 257.9C138.4 256.8 140.0 256.0 142.3 255.4C144.6 254.8 147.5 254.4 150.4 254.3C153.3 254.2 156.3 254.6 159.6 254.9C162.9 255.2 165.8 255.7 170.0 255.9C174.2 256.1 180.0 256.2 185.0 256.3C190.0 256.4 195.0 256.4 200.0 256.4C205.0 256.4 210.0 256.3 215.0 256.3C220.0 256.3 225.0 256.2 230.0 256.4C235.0 256.6 240.0 257.0 245.0 257.4C250.0 257.8 255.0 258.3 260.0 258.7C265.0 259.1 270.0 259.6 275.0 259.9C280.0 260.2 285.0 260.5 290.0 260.6C295.0 260.7 300.0 260.8 305.0 260.7C310.0 260.6 315.0 260.4 320.0 260.2C325.0 260.0 330.0 259.9 335.0 259.6C340.0 259.4 345.0 259.1 350.0 258.7C355.0 258.3 360.0 257.9 365.0 257.4C370.0 256.9 375.0 256.4 380.0 255.8C385.0 255.2 390.0 254.6 395.0 254.0C400.0 253.4 405.0 252.7 410.0 252.1C415.0 251.5 420.0 250.9 425.0 250.3C430.0 249.7 435.0 249.1 440.0 248.5C445.0 247.9 450.0 247.2 455.0 246.6C460.0 245.9 467.5 244.9 470.0 244.6" fill="none" stroke="#a8002a" stroke-width="1.9"/></g><rect x="75.5" y="27.5" width="394.1" height="315.9" fill="none" stroke="#000" stroke-width="1.2"/><path d="M72.3 317.4H75.5M73.7 286.0H75.5M72.3 254.5H75.5M73.7 223.1H75.5M72.3 191.7H75.5M73.7 160.3H75.5M72.3 128.8H75.5M73.7 97.4H75.5M72.3 66.0H75.5M73.7 34.6H75.5M82.3 343.4V346.9M109.5 343.4V345.4M136.7 343.4V346.9M163.9 343.4V345.4M191.2 343.4V346.9M218.4 343.4V345.4M245.6 343.4V346.9M272.8 343.4V345.4M300.0 343.4V346.9M327.2 343.4V345.4M354.5 343.4V346.9M381.7 343.4V345.4M408.9 343.4V346.9M436.1 343.4V345.4M463.3 343.4V346.9M469.6 314.4H472.8M469.6 280.2H471.4M469.6 246.0H472.8M469.6 211.8H471.4M469.6 177.6H472.8M469.6 143.4H471.4M469.6 109.2H472.8M469.6 75.0H471.4M469.6 40.8H472.8" stroke="#000" stroke-width="1.1" fill="none"/><g font-family="Liberation Sans, sans-serif" fill="#111" stroke="#111" stroke-width="0.18" font-size="9"><text x="68.5" y="320.6" font-size="9.7" text-anchor="end" font-weight="normal" letter-spacing="0.2">0</text><text x="68.5" y="257.8" font-size="9.7" text-anchor="end" font-weight="normal" letter-spacing="0.2">5,000</text><text x="68.5" y="194.9" font-size="9.7" text-anchor="end" font-weight="normal" letter-spacing="0.2">10,000</text><text x="68.5" y="132.0" font-size="9.7" text-anchor="end" font-weight="normal" letter-spacing="0.2">15,000</text><text x="68.5" y="69.2" font-size="9.7" text-anchor="end" font-weight="normal" letter-spacing="0.2">20,000</text><text x="82.5" y="359.4" font-size="9.7" text-anchor="middle" font-weight="normal" letter-spacing="0.2">0</text><text x="136.9" y="359.4" font-size="9.7" text-anchor="middle" font-weight="normal" letter-spacing="0.2">24</text><text x="191.4" y="359.4" font-size="9.7" text-anchor="middle" font-weight="normal" letter-spacing="0.2">48</text><text x="245.8" y="359.4" font-size="9.7" text-anchor="middle" font-weight="normal" letter-spacing="0.2">72</text><text x="300.2" y="359.4" font-size="9.7" text-anchor="middle" font-weight="normal" letter-spacing="0.2">96</text><text x="354.7" y="359.4" font-size="9.7" text-anchor="middle" font-weight="normal" letter-spacing="0.2">120</text><text x="409.1" y="359.4" font-size="9.7" text-anchor="middle" font-weight="normal" letter-spacing="0.2">144</text><text x="463.5" y="359.4" font-size="9.7" text-anchor="middle" font-weight="normal" letter-spacing="0.2">168</text><text x="477.0" y="317.6" font-size="9.7" text-anchor="start" font-weight="normal" letter-spacing="0.2">0</text><text x="477.0" y="249.2" font-size="9.7" text-anchor="start" font-weight="normal" letter-spacing="0.2">100</text><text x="477.0" y="180.8" font-size="9.7" text-anchor="start" font-weight="normal" letter-spacing="0.2">200</text><text x="477.0" y="112.4" font-size="9.7" text-anchor="start" font-weight="normal" letter-spacing="0.2">300</text><text x="477.0" y="44.0" font-size="9.7" text-anchor="start" font-weight="normal" letter-spacing="0.2">400</text><text x="272.4" y="373.6" font-size="11.3" text-anchor="middle" font-weight="normal" textLength="82.7" lengthAdjust="spacingAndGlyphs" stroke-width="0.4">Time since last dose (h)</text><text transform="translate(31.5 185.5) rotate(-90)" font-size="11.8" stroke-width="0.4" text-anchor="middle" textLength="160.3" lengthAdjust="spacingAndGlyphs">Plasma concentration of CWP232204 (ng/mL)</text><text transform="translate(500.3 185.2) rotate(90)" font-size="11.8" stroke-width="0.4" text-anchor="middle" textLength="82.6" lengthAdjust="spacingAndGlyphs">Survivin (% of baseline)</text></g><circle cx="141.7" cy="405.2" r="2.0" fill="none" stroke="#2f4d86" stroke-width="0.9"/><g font-family="Liberation Sans, sans-serif" fill="#1a1a1a"><text x="147.8" y="408.3" font-size="9.2" text-anchor="start" font-weight="normal" textLength="108.4" lengthAdjust="spacingAndGlyphs">CWP232204 Concentration</text><text x="301.5" y="408.3" font-size="9.2" text-anchor="start" font-weight="normal" textLength="105.5" lengthAdjust="spacingAndGlyphs">Survivin, ID=4015 excluded</text></g><line x1="267.7" y1="405.2" x2="297.5" y2="405.2" stroke="#a8002a" stroke-width="1.8"/><g fill="#fff" stroke="#b01236" stroke-width="0.9"><path d="M282.2 403.2L284.6 407.1L279.8 407.1Z"/></g><rect x="75.2" y="413.7" width="198.10000000000002" height="12.9" fill="#f5ddba"/><clipPath id="cb00"><rect x="75.2" y="426.59999999999997" width="198.10000000000002" height="66.00000000000006"/></clipPath><g clip-path="url(#cb00)"><g fill="none" stroke="#2f4d86" stroke-width="0.9"><circle cx="95.2" cy="468.7" r="2.0"/><circle cx="95.2" cy="471.1" r="2.0"/><circle cx="95.2" cy="472.5" r="2.0"/><circle cx="95.2" cy="474.0" r="2.0"/><circle cx="95.2" cy="475.4" r="2.0"/><circle cx="95.2" cy="477.3" r="2.0"/><circle cx="95.7" cy="479.2" r="2.0"/><circle cx="95.5" cy="480.5" r="2.0"/><circle cx="95.7" cy="481.6" r="2.0"/><circle cx="95.5" cy="483.3" r="2.0"/><circle cx="95.7" cy="485.0" r="2.0"/><circle cx="96.7" cy="486.4" r="2.0"/><circle cx="98.6" cy="486.9" r="2.0"/><circle cx="101.0" cy="486.9" r="2.0"/><circle cx="102.4" cy="486.4" r="2.0"/><circle cx="108.2" cy="487.9" r="2.0"/><circle cx="108.2" cy="484.5" r="2.0"/><circle cx="120.7" cy="487.4" r="2.0"/><circle cx="122.6" cy="487.4" r="2.0"/><circle cx="127.4" cy="487.4" r="2.0"/><circle cx="130.3" cy="487.4" r="2.0"/><circle cx="133.2" cy="487.4" r="2.0"/><circle cx="167.3" cy="487.2" r="2.0"/><circle cx="171.2" cy="487.2" r="2.0"/><circle cx="174.5" cy="487.2" r="2.0"/><circle cx="252.0" cy="486.9" r="2.0"/><circle cx="252.8" cy="486.9" r="2.0"/></g><g fill="none" stroke="#b01236" stroke-width="0.9"><path d="M94.3 481.1L96.6 485.0L92.0 485.0Z"/><path d="M101.5 476.3L103.8 480.2L99.2 480.2Z"/><path d="M101.5 478.2L103.8 482.1L99.2 482.1Z"/><path d="M100.5 480.6L102.8 484.5L98.2 484.5Z"/><path d="M108.2 479.0L110.5 482.9L105.9 482.9Z"/><path d="M107.7 481.1L110.0 485.0L105.4 485.0Z"/><path d="M122.6 475.3L124.9 479.2L120.2 479.2Z"/><path d="M123.1 476.3L125.4 480.2L120.8 480.2Z"/><path d="M121.2 482.0L123.5 485.9L118.9 485.9Z"/><path d="M121.7 483.0L124.0 486.9L119.4 486.9Z"/><path d="M173.1 476.8L175.4 480.7L170.8 480.7Z"/><path d="M171.2 481.7L173.5 485.6L168.8 485.6Z"/><path d="M175.0 479.0L177.3 482.9L172.7 482.9Z"/><path d="M252.0 483.0L254.3 486.9L249.7 486.9Z"/><path d="M252.5 482.0L254.8 485.9L250.2 485.9Z"/></g><path d="M92.3 483.8C93.2 483.8 95.8 483.5 97.6 483.6C99.4 483.7 101.6 484.2 103.4 484.5C105.2 484.8 106.3 485.3 108.2 485.5C110.1 485.7 112.7 485.8 114.9 485.8C117.2 485.8 117.9 485.6 121.7 485.5C125.5 485.4 130.7 485.2 138.0 485.2C145.3 485.2 159.2 485.5 165.4 485.6C171.6 485.8 165.4 486.0 175.0 486.1C184.6 486.2 210.2 486.3 223.0 486.2C235.8 486.1 243.6 485.8 252.0 485.6C260.4 485.4 269.9 485.1 273.5 485.0" fill="none" stroke="#a8002a" stroke-width="1.9"/></g><text x="174.2" y="423.1" dy="0.0" font-family="Liberation Sans, sans-serif" font-size="9.2" text-anchor="middle" fill="#111" stroke="#111" stroke-width="0.22" letter-spacing="0.12">COHORT: 9</text><rect x="273.3" y="413.7" width="198.3" height="12.9" fill="#f5ddba"/><clipPath id="cb01"><rect x="273.3" y="426.59999999999997" width="198.3" height="66.00000000000006"/></clipPath><g clip-path="url(#cb01)"><g fill="none" stroke="#2f4d86" stroke-width="0.9"><circle cx="293.2" cy="458.7" r="2.0"/><circle cx="293.2" cy="463.1" r="2.0"/><circle cx="293.2" cy="472.7" r="2.0"/><circle cx="293.2" cy="477.9" r="2.0"/><circle cx="294.2" cy="480.8" r="2.0"/><circle cx="294.2" cy="482.7" r="2.0"/><circle cx="293.7" cy="484.6" r="2.0"/><circle cx="294.6" cy="486.5" r="2.0"/><circle cx="295.5" cy="485.5" r="2.0"/><circle cx="296.5" cy="486.2" r="2.0"/><circle cx="298.0" cy="486.2" r="2.0"/><circle cx="300.9" cy="486.5" r="2.0"/><circle cx="306.7" cy="486.9" r="2.0"/><circle cx="318.2" cy="486.9" r="2.0"/><circle cx="320.1" cy="486.9" r="2.0"/><circle cx="356.1" cy="486.9" r="2.0"/><circle cx="371.1" cy="486.9" r="2.0"/><circle cx="373.0" cy="486.9" r="2.0"/><circle cx="466.2" cy="486.9" r="2.0"/><circle cx="294.5" cy="479.5" r="2.0"/><circle cx="295.2" cy="481.5" r="2.0"/><circle cx="295.6" cy="483.5" r="2.0"/><circle cx="296.2" cy="485.2" r="2.0"/><circle cx="297.3" cy="486.4" r="2.0"/><circle cx="299.2" cy="486.6" r="2.0"/><circle cx="293.8" cy="482.0" r="2.0"/><circle cx="294.9" cy="484.5" r="2.0"/><circle cx="319.2" cy="486.5" r="2.0"/><circle cx="319.8" cy="485.5" r="2.0"/></g><g fill="none" stroke="#b01236" stroke-width="0.9"><path d="M299.9 467.6L302.2 471.5L297.5 471.5Z"/><path d="M299.9 474.5L302.2 478.4L297.5 478.4Z"/><path d="M306.7 476.8L309.1 480.7L304.3 480.7Z"/><path d="M299.9 480.7L302.2 484.6L297.5 484.6Z"/><path d="M320.1 461.1L322.5 465.0L317.8 465.0Z"/><path d="M319.2 480.3L321.6 484.2L316.8 484.2Z"/><path d="M319.2 482.6L321.6 486.5L316.8 486.5Z"/><path d="M356.1 482.6L358.5 486.5L353.8 486.5Z"/><path d="M371.1 461.1L373.5 465.0L368.8 465.0Z"/><path d="M371.1 471.1L373.5 475.0L368.8 475.0Z"/><path d="M371.1 480.7L373.5 484.6L368.8 484.6Z"/><path d="M447.0 455.7L449.4 459.6L444.6 459.6Z"/><path d="M466.2 479.2L468.6 483.1L463.8 483.1Z"/><path d="M297.0 482.0L299.4 485.9L294.6 485.9Z"/><path d="M295.0 481.0L297.4 484.9L292.6 484.9Z"/><path d="M299.5 482.5L301.9 486.4L297.1 486.4Z"/><path d="M300.5 483.5L302.9 487.4L298.1 487.4Z"/><path d="M298.5 484.0L300.9 487.9L296.1 487.9Z"/><path d="M319.5 482.0L321.9 485.9L317.1 485.9Z"/></g><path d="M291.3 483.7C292.4 483.5 295.4 482.8 298.0 482.7C300.6 482.6 304.0 483.1 306.7 483.1C309.4 483.1 312.1 482.6 314.3 482.7C316.5 482.8 318.3 483.1 320.1 483.7C321.9 484.3 323.1 485.6 324.9 486.5C326.7 487.4 328.4 488.7 330.7 489.2C332.9 489.7 335.8 489.7 338.4 489.4C341.0 489.1 343.2 488.3 346.1 487.5C349.1 486.7 352.9 485.4 356.1 484.6C359.3 483.8 362.5 483.3 365.3 482.7C368.1 482.1 368.7 482.0 373.0 480.8C377.3 479.6 384.9 477.4 391.2 475.4C397.4 473.4 404.1 470.8 410.5 468.8C416.9 466.8 423.9 464.7 429.7 463.5C435.5 462.3 440.6 461.9 445.1 461.5C449.6 461.1 452.2 460.9 456.6 461.2C461.0 461.5 469.0 462.8 471.5 463.1" fill="none" stroke="#a8002a" stroke-width="1.9"/></g><text x="372.5" y="423.1" dy="0.0" font-family="Liberation Sans, sans-serif" font-size="9.2" text-anchor="middle" fill="#111" stroke="#111" stroke-width="0.22" letter-spacing="0.12">COHORT: 10</text><rect x="75.2" y="492.6" width="198.10000000000002" height="12.9" fill="#f5ddba"/><clipPath id="cb10"><rect x="75.2" y="505.5" width="198.10000000000002" height="66.10000000000002"/></clipPath><g clip-path="url(#cb10)"><g fill="none" stroke="#2f4d86" stroke-width="0.9"><circle cx="95.2" cy="534.2" r="2.0"/><circle cx="95.2" cy="539.2" r="2.0"/><circle cx="95.2" cy="544.4" r="2.0"/><circle cx="95.2" cy="546.2" r="2.0"/><circle cx="95.2" cy="548.6" r="2.0"/><circle cx="95.2" cy="555.5" r="2.0"/><circle cx="95.2" cy="557.2" r="2.0"/><circle cx="95.2" cy="558.8" r="2.0"/><circle cx="96.2" cy="561.7" r="2.0"/><circle cx="95.5" cy="560.2" r="2.0"/><circle cx="97.1" cy="564.0" r="2.0"/><circle cx="96.0" cy="563.5" r="2.0"/><circle cx="98.5" cy="564.8" r="2.0"/><circle cx="100.0" cy="565.2" r="2.0"/><circle cx="102.0" cy="565.3" r="2.0"/><circle cx="108.7" cy="565.5" r="2.0"/><circle cx="121.2" cy="565.9" r="2.0"/><circle cx="173.0" cy="565.9" r="2.0"/><circle cx="252.9" cy="565.9" r="2.0"/></g><g fill="none" stroke="#b01236" stroke-width="0.9"><path d="M101.9 509.1L104.2 513.0L99.6 513.0Z"/><path d="M121.7 529.5L124.0 533.4L119.4 533.4Z"/><path d="M108.7 546.2L111.0 550.1L106.4 550.1Z"/><path d="M101.9 547.8L104.2 551.7L99.6 551.7Z"/><path d="M102.9 551.0L105.2 554.9L100.6 554.9Z"/><path d="M101.9 557.8L104.2 561.7L99.6 561.7Z"/><path d="M95.2 560.7L97.5 564.6L92.9 564.6Z"/><path d="M101.9 562.0L104.2 565.9L99.6 565.9Z"/><path d="M108.7 563.2L111.0 567.1L106.4 567.1Z"/><path d="M121.7 554.9L124.0 558.8L119.4 558.8Z"/><path d="M121.7 559.7L124.0 563.6L119.4 563.6Z"/><path d="M173.0 546.6L175.3 550.5L170.7 550.5Z"/><path d="M173.0 551.6L175.3 555.5L170.7 555.5Z"/><path d="M173.0 558.7L175.3 562.6L170.7 562.6Z"/><path d="M252.5 535.1L254.8 539.0L250.2 539.0Z"/><path d="M253.8 543.9L256.2 547.8L251.5 547.8Z"/><path d="M253.8 559.3L256.2 563.2L251.5 563.2Z"/><path d="M99.0 560.0L101.3 563.9L96.7 563.9Z"/><path d="M104.0 560.5L106.3 564.4L101.7 564.4Z"/></g><path d="M93.3 562.7C94.4 562.2 97.6 561.1 100.0 559.8C102.4 558.5 105.1 555.2 107.7 555.0C110.3 554.8 113.0 557.5 115.4 558.8C117.8 560.1 119.5 560.9 122.1 562.7C124.7 564.5 127.4 568.0 130.8 569.5C134.2 571.0 138.8 572.2 142.3 572.0C145.8 571.8 148.7 569.6 151.9 568.4C155.1 567.2 157.7 566.0 161.5 564.6C165.3 563.2 169.6 561.6 175.0 560.2C180.4 558.8 187.8 557.6 194.2 556.3C200.6 554.9 207.1 553.4 213.5 552.1C219.9 550.8 226.3 549.8 232.7 548.6C239.1 547.4 245.0 546.2 251.9 544.8C258.8 543.4 270.3 541.0 274.0 540.2" fill="none" stroke="#a8002a" stroke-width="1.9"/></g><text x="174.2" y="423.1" dy="78.9" font-family="Liberation Sans, sans-serif" font-size="9.2" text-anchor="middle" fill="#111" stroke="#111" stroke-width="0.22" letter-spacing="0.12">COHORT: 11</text><rect x="273.3" y="492.6" width="198.3" height="12.9" fill="#f5ddba"/><clipPath id="cb11"><rect x="273.3" y="505.5" width="198.3" height="66.10000000000002"/></clipPath><g clip-path="url(#cb11)"><g fill="none" stroke="#2f4d86" stroke-width="0.9"><circle cx="293.8" cy="511.3" r="2.0"/><circle cx="293.8" cy="522.3" r="2.0"/><circle cx="294.5" cy="524.2" r="2.0"/><circle cx="293.2" cy="528.0" r="2.0"/><circle cx="293.2" cy="532.8" r="2.0"/><circle cx="293.2" cy="536.3" r="2.0"/><circle cx="294.5" cy="543.4" r="2.0"/><circle cx="293.2" cy="548.6" r="2.0"/><circle cx="294.2" cy="554.0" r="2.0"/><circle cx="294.2" cy="556.0" r="2.0"/><circle cx="294.4" cy="558.0" r="2.0"/><circle cx="294.2" cy="560.0" r="2.0"/><circle cx="294.8" cy="561.7" r="2.0"/><circle cx="296.1" cy="564.6" r="2.0"/><circle cx="297.5" cy="565.0" r="2.0"/><circle cx="306.7" cy="565.5" r="2.0"/><circle cx="319.2" cy="565.9" r="2.0"/><circle cx="295.2" cy="553.0" r="2.0"/><circle cx="295.5" cy="555.0" r="2.0"/><circle cx="295.3" cy="557.0" r="2.0"/><circle cx="295.6" cy="559.0" r="2.0"/><circle cx="295.0" cy="561.0" r="2.0"/><circle cx="296.5" cy="562.5" r="2.0"/><circle cx="306.3" cy="566.0" r="2.0"/><circle cx="319.5" cy="566.2" r="2.0"/><circle cx="366.3" cy="565.9" r="2.0"/><circle cx="371.1" cy="565.9" r="2.0"/><circle cx="373.0" cy="565.9" r="2.0"/><circle cx="445.7" cy="565.9" r="2.0"/><circle cx="452.4" cy="565.9" r="2.0"/></g><g fill="none" stroke="#b01236" stroke-width="0.9"><path d="M292.2 560.7L294.6 564.6L289.8 564.6Z"/><path d="M299.9 556.8L302.2 560.7L297.5 560.7Z"/><path d="M300.3 557.5L302.7 561.4L297.9 561.4Z"/><path d="M299.9 559.7L302.2 563.6L297.5 563.6Z"/><path d="M300.5 560.3L302.9 564.2L298.1 564.2Z"/><path d="M298.5 561.0L300.9 564.9L296.1 564.9Z"/><path d="M306.7 554.9L309.1 558.8L304.3 558.8Z"/><path d="M306.7 557.8L309.1 561.7L304.3 561.7Z"/><path d="M306.7 561.6L309.1 565.5L304.3 565.5Z"/><path d="M319.2 554.9L321.6 558.8L316.8 558.8Z"/><path d="M319.2 558.7L321.6 562.6L316.8 562.6Z"/><path d="M319.2 561.6L321.6 565.5L316.8 565.5Z"/><path d="M371.1 555.8L373.5 559.7L368.8 559.7Z"/><path d="M371.1 559.7L373.5 563.6L368.8 563.6Z"/><path d="M373.0 558.0L375.4 561.9L370.6 561.9Z"/><path d="M427.8 561.2L430.2 565.1L425.4 565.1Z"/><path d="M445.1 563.5L447.5 567.4L442.8 567.4Z"/><path d="M451.8 559.3L454.2 563.2L449.4 563.2Z"/><path d="M300.5 555.5L302.9 559.4L298.1 559.4Z"/><path d="M300.2 556.5L302.6 560.4L297.8 560.4Z"/><path d="M299.8 558.0L302.2 561.9L297.4 561.9Z"/><path d="M301.0 559.0L303.4 562.9L298.6 562.9Z"/><path d="M300.4 561.0L302.8 564.9L298.0 564.9Z"/><path d="M301.2 562.5L303.6 566.4L298.8 566.4Z"/><path d="M300.0 563.5L302.4 567.4L297.6 567.4Z"/><path d="M306.2 556.0L308.6 559.9L303.8 559.9Z"/><path d="M306.5 559.0L308.9 562.9L304.1 562.9Z"/><path d="M319.0 556.0L321.4 559.9L316.6 559.9Z"/><path d="M319.4 560.0L321.8 563.9L317.0 563.9Z"/></g><path d="M291.3 562.7C292.4 562.5 294.6 561.7 298.0 561.7C301.4 561.7 306.1 562.4 311.5 562.7C316.9 563.0 324.3 563.3 330.7 563.4C337.1 563.5 342.8 563.5 349.9 563.4C356.9 563.3 361.3 563.0 373.0 562.9C384.7 562.8 403.6 563.0 420.0 563.0C436.4 563.0 462.9 563.0 471.5 563.0" fill="none" stroke="#a8002a" stroke-width="1.9"/></g><text x="372.5" y="423.1" dy="78.9" font-family="Liberation Sans, sans-serif" font-size="9.2" text-anchor="middle" fill="#111" stroke="#111" stroke-width="0.22" letter-spacing="0.12">COHORT: 12</text><rect x="75.2" y="571.6" width="198.10000000000002" height="12.9" fill="#f5ddba"/><clipPath id="cb20"><rect x="75.2" y="584.5" width="198.10000000000002" height="66.20000000000005"/></clipPath><g clip-path="url(#cb20)"><g fill="none" stroke="#2f4d86" stroke-width="0.9"><circle cx="95.8" cy="613.8" r="2.0"/><circle cx="95.8" cy="616.1" r="2.0"/><circle cx="96.2" cy="618.6" r="2.0"/><circle cx="96.2" cy="620.5" r="2.0"/><circle cx="96.2" cy="626.3" r="2.0"/><circle cx="96.2" cy="629.2" r="2.0"/><circle cx="96.2" cy="632.6" r="2.0"/><circle cx="97.1" cy="635.9" r="2.0"/><circle cx="98.1" cy="638.8" r="2.0"/><circle cx="96.5" cy="641.0" r="2.0"/><circle cx="95.0" cy="643.0" r="2.0"/><circle cx="94.5" cy="645.0" r="2.0"/><circle cx="97.5" cy="642.5" r="2.0"/><circle cx="99.5" cy="643.5" r="2.0"/><circle cx="101.5" cy="644.5" r="2.0"/><circle cx="103.5" cy="645.0" r="2.0"/><circle cx="105.8" cy="645.5" r="2.0"/><circle cx="98.0" cy="645.3" r="2.0"/><circle cx="108.7" cy="645.5" r="2.0"/><circle cx="122.1" cy="645.5" r="2.0"/><circle cx="165.4" cy="645.5" r="2.0"/><circle cx="171.2" cy="646.1" r="2.0"/><circle cx="174.3" cy="645.5" r="2.0"/><circle cx="251.9" cy="645.5" r="2.0"/><circle cx="97.5" cy="623.0" r="2.0"/><circle cx="97.2" cy="631.0" r="2.0"/><circle cx="97.8" cy="634.0" r="2.0"/><circle cx="98.3" cy="637.0" r="2.0"/><circle cx="99.0" cy="640.0" r="2.0"/><circle cx="100.5" cy="642.0" r="2.0"/><circle cx="102.5" cy="643.0" r="2.0"/><circle cx="104.5" cy="644.5" r="2.0"/><circle cx="110.5" cy="645.5" r="2.0"/><circle cx="121.5" cy="645.0" r="2.0"/><circle cx="123.0" cy="645.8" r="2.0"/></g><g fill="none" stroke="#b01236" stroke-width="0.9"><path d="M102.9 636.8L105.2 640.7L100.6 640.7Z"/><path d="M109.2 637.2L111.5 641.1L106.9 641.1Z"/><path d="M122.1 633.9L124.4 637.8L119.8 637.8Z"/><path d="M122.1 637.2L124.4 641.1L119.8 641.1Z"/><path d="M122.1 639.6L124.4 643.5L119.8 643.5Z"/><path d="M94.2 639.6L96.5 643.5L91.9 643.5Z"/><path d="M102.9 644.5L105.2 648.4L100.6 648.4Z"/><path d="M165.4 639.6L167.8 643.5L163.1 643.5Z"/><path d="M173.1 638.7L175.4 642.6L170.8 642.6Z"/><path d="M251.3 635.2L253.7 639.1L249.0 639.1Z"/><path d="M252.9 642.5L255.2 646.4L250.6 646.4Z"/><path d="M100.5 639.0L102.8 642.9L98.2 642.9Z"/><path d="M104.5 640.0L106.8 643.9L102.2 643.9Z"/><path d="M98.0 638.5L100.3 642.4L95.7 642.4Z"/><path d="M106.0 641.0L108.3 644.9L103.7 644.9Z"/><path d="M108.0 642.0L110.3 645.9L105.7 645.9Z"/><path d="M110.0 641.0L112.3 644.9L107.7 644.9Z"/><path d="M103.0 642.5L105.3 646.4L100.7 646.4Z"/><path d="M121.8 641.0L124.1 644.9L119.5 644.9Z"/><path d="M122.4 642.5L124.8 646.4L120.1 646.4Z"/></g><path d="M93.3 641.6C94.4 641.6 96.6 641.1 100.0 641.6C103.4 642.1 108.0 644.0 113.5 644.5C119.0 645.0 126.3 644.9 132.7 644.9C139.1 644.9 144.8 644.2 151.9 644.2C159.0 644.2 166.3 644.6 175.0 644.9C183.7 645.2 191.0 645.9 203.8 645.9C216.6 645.9 240.4 645.1 252.0 644.9C263.6 644.7 269.9 644.6 273.5 644.5" fill="none" stroke="#a8002a" stroke-width="1.9"/></g><text x="174.2" y="423.1" dy="157.9" font-family="Liberation Sans, sans-serif" font-size="9.2" text-anchor="middle" fill="#111" stroke="#111" stroke-width="0.22" letter-spacing="0.12">COHORT: 13</text><rect x="273.3" y="571.6" width="198.3" height="12.9" fill="#f5ddba"/><clipPath id="cb21"><rect x="273.3" y="584.5" width="198.3" height="66.20000000000005"/></clipPath><g clip-path="url(#cb21)"><g fill="none" stroke="#2f4d86" stroke-width="0.9"><circle cx="295.1" cy="606.1" r="2.0"/><circle cx="295.1" cy="618.6" r="2.0"/><circle cx="295.1" cy="621.5" r="2.0"/><circle cx="296.1" cy="627.6" r="2.0"/><circle cx="296.1" cy="630.0" r="2.0"/><circle cx="296.1" cy="632.0" r="2.0"/><circle cx="296.1" cy="634.0" r="2.0"/><circle cx="296.1" cy="636.0" r="2.0"/><circle cx="296.6" cy="638.0" r="2.0"/><circle cx="296.6" cy="640.7" r="2.0"/><circle cx="298.0" cy="642.6" r="2.0"/><circle cx="297.0" cy="641.5" r="2.0"/><circle cx="300.0" cy="643.5" r="2.0"/><circle cx="302.0" cy="644.0" r="2.0"/><circle cx="307.6" cy="644.5" r="2.0"/><circle cx="311.5" cy="644.9" r="2.0"/><circle cx="321.1" cy="644.9" r="2.0"/><circle cx="324.0" cy="644.9" r="2.0"/><circle cx="355.3" cy="644.9" r="2.0"/><circle cx="363.4" cy="644.9" r="2.0"/><circle cx="367.2" cy="644.9" r="2.0"/><circle cx="372.5" cy="644.9" r="2.0"/><circle cx="447.0" cy="644.9" r="2.0"/><circle cx="451.8" cy="644.9" r="2.0"/><circle cx="294.2" cy="630.0" r="2.0"/><circle cx="294.5" cy="633.0" r="2.0"/><circle cx="294.3" cy="636.0" r="2.0"/><circle cx="294.6" cy="639.0" r="2.0"/><circle cx="297.5" cy="632.0" r="2.0"/><circle cx="297.8" cy="635.0" r="2.0"/><circle cx="297.6" cy="638.0" r="2.0"/><circle cx="298.2" cy="641.0" r="2.0"/><circle cx="295.0" cy="642.0" r="2.0"/><circle cx="303.5" cy="644.5" r="2.0"/><circle cx="305.5" cy="644.8" r="2.0"/><circle cx="309.5" cy="645.0" r="2.0"/><circle cx="313.5" cy="645.0" r="2.0"/><circle cx="316.0" cy="644.8" r="2.0"/><circle cx="318.5" cy="645.0" r="2.0"/></g><g fill="none" stroke="#b01236" stroke-width="0.9"><path d="M323.4 629.1L325.8 633.0L321.0 633.0Z"/><path d="M322.0 632.5L324.4 636.4L319.6 636.4Z"/><path d="M323.4 635.2L325.8 639.1L321.0 639.1Z"/><path d="M301.8 633.0L304.2 636.9L299.4 636.9Z"/><path d="M302.8 635.2L305.2 639.1L300.4 639.1Z"/><path d="M300.9 637.7L303.2 641.6L298.5 641.6Z"/><path d="M307.6 637.7L310.0 641.6L305.2 641.6Z"/><path d="M313.4 637.7L315.8 641.6L311.0 641.6Z"/><path d="M292.2 639.1L294.6 643.0L289.8 643.0Z"/><path d="M319.2 639.7L321.6 643.6L316.8 643.6Z"/><path d="M301.8 641.6L304.2 645.5L299.4 645.5Z"/><path d="M370.1 635.8L372.5 639.7L367.8 639.7Z"/><path d="M371.1 638.7L373.5 642.6L368.8 642.6Z"/><path d="M372.5 637.0L374.9 640.9L370.1 640.9Z"/><path d="M448.0 634.9L450.4 638.8L445.6 638.8Z"/><path d="M451.8 633.9L454.2 637.8L449.4 637.8Z"/><path d="M448.0 638.3L450.4 642.2L445.6 642.2Z"/><path d="M304.0 639.0L306.4 642.9L301.6 642.9Z"/><path d="M299.0 639.5L301.4 643.4L296.6 643.4Z"/><path d="M305.0 640.5L307.4 644.4L302.6 644.4Z"/><path d="M309.0 641.0L311.4 644.9L306.6 644.9Z"/><path d="M316.0 640.0L318.4 643.9L313.6 643.9Z"/><path d="M311.0 639.5L313.4 643.4L308.6 643.4Z"/><path d="M303.0 637.0L305.4 640.9L300.6 640.9Z"/></g><path d="M292.2 641.7C293.8 641.7 297.0 641.5 301.8 641.7C306.6 641.9 314.7 642.6 321.1 643.0C327.5 643.4 334.5 643.9 340.3 644.2C346.1 644.5 350.4 645.2 355.7 644.9C361.0 644.6 367.7 643.4 372.0 642.6C376.3 641.8 375.8 641.0 381.6 640.3C387.4 639.6 398.6 638.6 406.6 638.4C414.6 638.1 422.6 638.7 429.7 638.8C436.8 638.9 441.9 639.0 448.9 639.2C455.9 639.5 467.7 640.1 471.5 640.3" fill="none" stroke="#a8002a" stroke-width="1.9"/></g><text x="372.5" y="423.1" dy="157.9" font-family="Liberation Sans, sans-serif" font-size="9.2" text-anchor="middle" fill="#111" stroke="#111" stroke-width="0.22" letter-spacing="0.12">COHORT: 14</text><rect x="75.2" y="650.7" width="198.10000000000002" height="12.9" fill="#f5ddba"/><clipPath id="cb30"><rect x="75.2" y="663.6" width="198.10000000000002" height="66.10000000000002"/></clipPath><g clip-path="url(#cb30)"><g fill="none" stroke="#2f4d86" stroke-width="0.9"><circle cx="96.7" cy="673.9" r="2.0"/><circle cx="96.7" cy="691.2" r="2.0"/><circle cx="96.2" cy="704.7" r="2.0"/><circle cx="97.1" cy="706.6" r="2.0"/><circle cx="97.1" cy="709.1" r="2.0"/><circle cx="97.7" cy="712.4" r="2.0"/><circle cx="98.1" cy="714.9" r="2.0"/><circle cx="99.0" cy="717.8" r="2.0"/><circle cx="100.0" cy="719.7" r="2.0"/><circle cx="101.9" cy="721.2" r="2.0"/><circle cx="103.8" cy="722.0" r="2.0"/><circle cx="109.2" cy="723.2" r="2.0"/><circle cx="122.1" cy="723.9" r="2.0"/><circle cx="122.7" cy="724.5" r="2.0"/><circle cx="168.3" cy="723.9" r="2.0"/><circle cx="174.0" cy="723.9" r="2.0"/><circle cx="243.3" cy="724.5" r="2.0"/><circle cx="252.9" cy="724.5" r="2.0"/></g><g fill="none" stroke="#b01236" stroke-width="0.9"><path d="M103.5 706.5L105.8 710.4L101.2 710.4Z"/><path d="M94.2 717.7L96.5 721.6L91.9 721.6Z"/><path d="M101.9 714.8L104.2 718.7L99.6 718.7Z"/><path d="M102.9 717.3L105.2 721.2L100.6 721.2Z"/><path d="M109.6 716.7L111.9 720.6L107.2 720.6Z"/><path d="M109.6 718.7L111.9 722.6L107.2 722.6Z"/><path d="M123.1 717.3L125.4 721.2L120.8 721.2Z"/><path d="M168.3 717.3L170.7 721.2L166.0 721.2Z"/><path d="M174.0 717.3L176.3 721.2L171.7 721.2Z"/><path d="M243.3 716.7L245.7 720.6L241.0 720.6Z"/><path d="M252.9 720.6L255.2 724.5L250.6 724.5Z"/><path d="M100.0 716.5L102.3 720.4L97.7 720.4Z"/><path d="M123.3 718.3L125.6 722.2L121.0 722.2Z"/><path d="M122.8 719.0L125.1 722.9L120.5 722.9Z"/><path d="M109.3 717.8L111.6 721.7L107.0 721.7Z"/><path d="M104.0 718.0L106.3 721.9L101.7 721.9Z"/><path d="M106.0 719.0L108.3 722.9L103.7 722.9Z"/></g><path d="M93.3 719.7C94.7 719.5 98.5 718.5 101.9 718.7C105.3 718.9 108.4 720.3 113.5 720.7C118.6 721.1 126.3 721.2 132.7 721.2C139.1 721.2 144.8 721.0 151.9 720.7C159.0 720.5 164.7 719.8 175.0 719.7C185.3 719.6 202.3 719.9 213.5 720.1C224.7 720.3 232.3 721.0 242.3 721.0C252.3 721.0 268.3 720.2 273.5 720.1" fill="none" stroke="#a8002a" stroke-width="1.9"/></g><text x="174.2" y="423.1" dy="237.0" font-family="Liberation Sans, sans-serif" font-size="9.2" text-anchor="middle" fill="#111" stroke="#111" stroke-width="0.22" letter-spacing="0.12">COHORT: 15</text><rect x="273.3" y="650.7" width="198.3" height="12.9" fill="#f5ddba"/><clipPath id="cb31"><rect x="273.3" y="663.6" width="198.3" height="66.10000000000002"/></clipPath><g clip-path="url(#cb31)"><g fill="none" stroke="#2f4d86" stroke-width="0.9"><circle cx="309.5" cy="723.2" r="2.0"/><circle cx="313.4" cy="723.9" r="2.0"/><circle cx="324.9" cy="723.9" r="2.0"/><circle cx="355.3" cy="723.9" r="2.0"/><circle cx="371.1" cy="723.9" r="2.0"/><circle cx="373.0" cy="723.9" r="2.0"/><circle cx="375.8" cy="723.9" r="2.0"/><circle cx="379.7" cy="723.9" r="2.0"/><circle cx="383.5" cy="723.9" r="2.0"/><circle cx="452.8" cy="723.9" r="2.0"/><circle cx="456.6" cy="723.9" r="2.0"/><circle cx="459.5" cy="723.9" r="2.0"/><circle cx="299.2" cy="715.5" r="2.0"/><circle cx="300.8" cy="715.5" r="2.0"/><circle cx="302.2" cy="715.5" r="2.0"/><circle cx="299.2" cy="717.5" r="2.0"/><circle cx="300.8" cy="717.5" r="2.0"/><circle cx="302.2" cy="717.5" r="2.0"/><circle cx="299.2" cy="719.5" r="2.0"/><circle cx="300.8" cy="719.5" r="2.0"/><circle cx="302.2" cy="719.5" r="2.0"/><circle cx="299.2" cy="721.5" r="2.0"/><circle cx="300.8" cy="721.5" r="2.0"/><circle cx="302.2" cy="721.5" r="2.0"/><circle cx="299.2" cy="723.5" r="2.0"/><circle cx="300.8" cy="723.5" r="2.0"/><circle cx="302.2" cy="723.5" r="2.0"/><circle cx="300.6" cy="714.5" r="2.0"/><circle cx="303.5" cy="724.2" r="2.0"/><circle cx="305.5" cy="724.2" r="2.0"/><circle cx="307.5" cy="724.2" r="2.0"/></g><g fill="none" stroke="#b01236" stroke-width="0.9"><path d="M292.2 717.7L294.6 721.6L289.8 721.6Z"/><path d="M306.7 707.7L309.1 711.6L304.3 711.6Z"/><path d="M306.7 710.4L309.1 714.3L304.3 714.3Z"/><path d="M307.6 712.9L310.0 716.8L305.2 716.8Z"/><path d="M301.8 716.7L304.2 720.6L299.4 720.6Z"/><path d="M306.7 717.3L309.1 721.2L304.3 721.2Z"/><path d="M306.7 720.0L309.1 723.9L304.3 723.9Z"/><path d="M312.4 718.7L314.8 722.6L310.0 722.6Z"/><path d="M313.4 721.2L315.8 725.1L311.0 725.1Z"/><path d="M326.8 705.2L329.2 709.1L324.4 709.1Z"/><path d="M324.5 715.8L326.9 719.7L322.1 719.7Z"/><path d="M326.8 717.3L329.2 721.2L324.4 721.2Z"/><path d="M325.9 722.5L328.2 726.4L323.5 726.4Z"/><path d="M371.1 715.8L373.5 719.7L368.8 719.7Z"/><path d="M367.2 717.3L369.6 721.2L364.8 721.2Z"/><path d="M374.3 713.5L376.7 717.4L371.9 717.4Z"/><path d="M383.2 714.8L385.6 718.7L380.8 718.7Z"/><path d="M378.7 718.7L381.1 722.6L376.3 722.6Z"/><path d="M452.8 717.7L455.2 721.6L450.4 721.6Z"/><path d="M462.4 718.1L464.8 722.0L460.0 722.0Z"/><path d="M304.0 719.0L306.4 722.9L301.6 722.9Z"/><path d="M309.0 719.5L311.4 723.4L306.6 723.4Z"/><path d="M305.0 721.0L307.4 724.9L302.6 724.9Z"/><path d="M307.0 722.0L309.4 725.9L304.6 725.9Z"/><path d="M310.0 720.5L312.4 724.4L307.6 724.4Z"/><path d="M312.0 722.5L314.4 726.4L309.6 726.4Z"/><path d="M314.0 720.0L316.4 723.9L311.6 723.9Z"/><path d="M303.0 717.5L305.4 721.4L300.6 721.4Z"/><path d="M308.0 718.0L310.4 721.9L305.6 721.9Z"/></g><path d="M292.2 720.1C293.8 720.0 298.6 719.6 301.8 719.7C305.0 719.8 308.0 720.2 311.5 720.7C315.0 721.2 319.2 722.2 323.0 722.6C326.8 723.0 330.0 723.4 334.5 723.2C339.0 723.0 345.1 721.8 349.9 721.2C354.7 720.6 359.5 720.1 363.4 719.7C367.2 719.3 368.4 718.8 373.0 718.9C377.6 719.0 384.9 719.7 391.2 720.1C397.4 720.5 404.1 720.9 410.5 721.2C416.9 721.5 422.6 721.8 429.7 722.0C436.8 722.2 445.8 722.4 452.8 722.6C459.9 722.8 468.8 723.1 472.0 723.2" fill="none" stroke="#a8002a" stroke-width="1.9"/></g><text x="372.5" y="423.1" dy="237.0" font-family="Liberation Sans, sans-serif" font-size="9.2" text-anchor="middle" fill="#111" stroke="#111" stroke-width="0.22" letter-spacing="0.12">COHORT: 14.1</text><path d="M75.2 413.7H471.6M75.2 426.59999999999997H471.6M75.2 492.6H471.6M75.2 505.5H471.6M75.2 571.6H471.6M75.2 584.5H471.6M75.2 650.7H471.6M75.2 663.6H471.6M75.2 729.7H471.6M75.2 413.7V729.7M273.3 413.7V729.7M471.6 413.7V729.7" stroke="#000" stroke-width="1.25" fill="none"/><path d="M72.0 487.1H75.2M73.4 480.5H75.2M72.0 474.0H75.2M73.4 467.4H75.2M72.0 460.8H75.2M73.4 454.2H75.2M72.0 447.7H75.2M73.4 441.1H75.2M72.0 434.5H75.2M471.6 489.2H474.8M471.6 482.9H473.4M471.6 476.7H474.8M471.6 470.4H473.4M471.6 464.2H474.8M471.6 457.9H473.4M471.6 451.7H474.8M471.6 445.4H473.4M471.6 439.2H474.8M72.0 566.0H75.2M73.4 559.4H75.2M72.0 552.9H75.2M73.4 546.3H75.2M72.0 539.7H75.2M73.4 533.1H75.2M72.0 526.5H75.2M73.4 520.0H75.2M72.0 513.4H75.2M471.6 568.1H474.8M471.6 561.9H473.4M471.6 555.6H474.8M471.6 549.4H473.4M471.6 543.1H474.8M471.6 536.9H473.4M471.6 530.6H474.8M471.6 524.4H473.4M471.6 518.1H474.8M72.0 645.0H75.2M73.4 638.4H75.2M72.0 631.9H75.2M73.4 625.3H75.2M72.0 618.7H75.2M73.4 612.1H75.2M72.0 605.5H75.2M73.4 599.0H75.2M72.0 592.4H75.2M471.6 647.1H474.8M471.6 640.9H473.4M471.6 634.6H474.8M471.6 628.4H473.4M471.6 622.1H474.8M471.6 615.9H473.4M471.6 609.6H474.8M471.6 603.4H473.4M471.6 597.1H474.8M72.0 724.1H75.2M73.4 717.5H75.2M72.0 711.0H75.2M73.4 704.4H75.2M72.0 697.8H75.2M73.4 691.2H75.2M72.0 684.6H75.2M73.4 678.1H75.2M72.0 671.5H75.2M471.6 726.2H474.8M471.6 720.0H473.4M471.6 713.7H474.8M471.6 707.5H473.4M471.6 701.2H474.8M471.6 695.0H473.4M471.6 688.7H474.8M471.6 682.5H473.4M471.6 676.2H474.8M95.0 729.7V733.2M114.7 729.7V731.7M134.5 729.7V733.2M154.3 729.7V731.7M174.1 729.7V733.2M193.8 729.7V731.7M213.6 729.7V733.2M233.4 729.7V731.7M253.1 729.7V733.2M293.1 729.7V733.2M312.8 729.7V731.7M332.6 729.7V733.2M352.4 729.7V731.7M372.1 729.7V733.2M391.9 729.7V731.7M411.7 729.7V733.2M431.5 729.7V731.7M451.2 729.7V733.2" stroke="#000" stroke-width="1.1" fill="none"/><g font-family="Liberation Sans, sans-serif" fill="#111" stroke="#111" stroke-width="0.18"><text x="68.5" y="490.3" font-size="9.7" text-anchor="end" font-weight="normal" letter-spacing="0.2">0</text><text x="68.5" y="477.2" font-size="9.7" text-anchor="end" font-weight="normal" letter-spacing="0.2">5,000</text><text x="68.5" y="464.0" font-size="9.7" text-anchor="end" font-weight="normal" letter-spacing="0.2">10,000</text><text x="68.5" y="450.9" font-size="9.7" text-anchor="end" font-weight="normal" letter-spacing="0.2">15,000</text><text x="68.5" y="437.7" font-size="9.7" text-anchor="end" font-weight="normal" letter-spacing="0.2">20,000</text><text x="479.2" y="492.4" font-size="9.7" text-anchor="start" font-weight="normal" letter-spacing="0.2">0</text><text x="479.2" y="479.9" font-size="9.7" text-anchor="start" font-weight="normal" letter-spacing="0.2">200</text><text x="479.2" y="467.4" font-size="9.7" text-anchor="start" font-weight="normal" letter-spacing="0.2">400</text><text x="479.2" y="454.9" font-size="9.7" text-anchor="start" font-weight="normal" letter-spacing="0.2">600</text><text x="479.2" y="442.4" font-size="9.7" text-anchor="start" font-weight="normal" letter-spacing="0.2">800</text><text x="68.5" y="569.2" font-size="9.7" text-anchor="end" font-weight="normal" letter-spacing="0.2">0</text><text x="68.5" y="556.1" font-size="9.7" text-anchor="end" font-weight="normal" letter-spacing="0.2">5,000</text><text x="68.5" y="542.9" font-size="9.7" text-anchor="end" font-weight="normal" letter-spacing="0.2">10,000</text><text x="68.5" y="529.8" font-size="9.7" text-anchor="end" font-weight="normal" letter-spacing="0.2">15,000</text><text x="68.5" y="516.6" font-size="9.7" text-anchor="end" font-weight="normal" letter-spacing="0.2">20,000</text><text x="479.2" y="571.3" font-size="9.7" text-anchor="start" font-weight="normal" letter-spacing="0.2">0</text><text x="479.2" y="558.8" font-size="9.7" text-anchor="start" font-weight="normal" letter-spacing="0.2">200</text><text x="479.2" y="546.3" font-size="9.7" text-anchor="start" font-weight="normal" letter-spacing="0.2">400</text><text x="479.2" y="533.8" font-size="9.7" text-anchor="start" font-weight="normal" letter-spacing="0.2">600</text><text x="479.2" y="521.3" font-size="9.7" text-anchor="start" font-weight="normal" letter-spacing="0.2">800</text><text x="68.5" y="648.2" font-size="9.7" text-anchor="end" font-weight="normal" letter-spacing="0.2">0</text><text x="68.5" y="635.1" font-size="9.7" text-anchor="end" font-weight="normal" letter-spacing="0.2">5,000</text><text x="68.5" y="621.9" font-size="9.7" text-anchor="end" font-weight="normal" letter-spacing="0.2">10,000</text><text x="68.5" y="608.8" font-size="9.7" text-anchor="end" font-weight="normal" letter-spacing="0.2">15,000</text><text x="68.5" y="595.6" font-size="9.7" text-anchor="end" font-weight="normal" letter-spacing="0.2">20,000</text><text x="479.2" y="650.3" font-size="9.7" text-anchor="start" font-weight="normal" letter-spacing="0.2">0</text><text x="479.2" y="637.8" font-size="9.7" text-anchor="start" font-weight="normal" letter-spacing="0.2">200</text><text x="479.2" y="625.3" font-size="9.7" text-anchor="start" font-weight="normal" letter-spacing="0.2">400</text><text x="479.2" y="612.8" font-size="9.7" text-anchor="start" font-weight="normal" letter-spacing="0.2">600</text><text x="479.2" y="600.3" font-size="9.7" text-anchor="start" font-weight="normal" letter-spacing="0.2">800</text><text x="68.5" y="727.3" font-size="9.7" text-anchor="end" font-weight="normal" letter-spacing="0.2">0</text><text x="68.5" y="714.2" font-size="9.7" text-anchor="end" font-weight="normal" letter-spacing="0.2">5,000</text><text x="68.5" y="701.0" font-size="9.7" text-anchor="end" font-weight="normal" letter-spacing="0.2">10,000</text><text x="68.5" y="687.9" font-size="9.7" text-anchor="end" font-weight="normal" letter-spacing="0.2">15,000</text><text x="68.5" y="674.7" font-size="9.7" text-anchor="end" font-weight="normal" letter-spacing="0.2">20,000</text><text x="479.2" y="729.4" font-size="9.7" text-anchor="start" font-weight="normal" letter-spacing="0.2">0</text><text x="479.2" y="716.9" font-size="9.7" text-anchor="start" font-weight="normal" letter-spacing="0.2">200</text><text x="479.2" y="704.4" font-size="9.7" text-anchor="start" font-weight="normal" letter-spacing="0.2">400</text><text x="479.2" y="691.9" font-size="9.7" text-anchor="start" font-weight="normal" letter-spacing="0.2">600</text><text x="479.2" y="679.4" font-size="9.7" text-anchor="start" font-weight="normal" letter-spacing="0.2">800</text><text x="95.2" y="744.7" font-size="9.7" text-anchor="middle" font-weight="normal" letter-spacing="0.2">0</text><text x="134.7" y="744.7" font-size="9.7" text-anchor="middle" font-weight="normal" letter-spacing="0.2">12</text><text x="174.2" y="744.7" font-size="9.7" text-anchor="middle" font-weight="normal" letter-spacing="0.2">24</text><text x="213.8" y="744.7" font-size="9.7" text-anchor="middle" font-weight="normal" letter-spacing="0.2">36</text><text x="253.3" y="744.7" font-size="9.7" text-anchor="middle" font-weight="normal" letter-spacing="0.2">48</text><text x="293.3" y="744.7" font-size="9.7" text-anchor="middle" font-weight="normal" letter-spacing="0.2">0</text><text x="332.8" y="744.7" font-size="9.7" text-anchor="middle" font-weight="normal" letter-spacing="0.2">12</text><text x="372.3" y="744.7" font-size="9.7" text-anchor="middle" font-weight="normal" letter-spacing="0.2">24</text><text x="411.9" y="744.7" font-size="9.7" text-anchor="middle" font-weight="normal" letter-spacing="0.2">36</text><text x="451.4" y="744.7" font-size="9.7" text-anchor="middle" font-weight="normal" letter-spacing="0.2">48</text><text x="273.4" y="761.0" font-size="11.3" text-anchor="middle" font-weight="normal" textLength="83.7" lengthAdjust="spacingAndGlyphs" stroke-width="0.4">Time since last dose (h)</text><text transform="translate(31.5 578.5) rotate(-90)" font-size="11.8" stroke-width="0.4" text-anchor="middle" textLength="160.7" lengthAdjust="spacingAndGlyphs">Plasma concentration of CWP232204 (ng/mL)</text><text transform="translate(501.7 578.1) rotate(90)" font-size="11.8" stroke-width="0.4" text-anchor="middle" textLength="82.7" lengthAdjust="spacingAndGlyphs">Survivin (% of baseline)</text></g></svg>
</body></html>
